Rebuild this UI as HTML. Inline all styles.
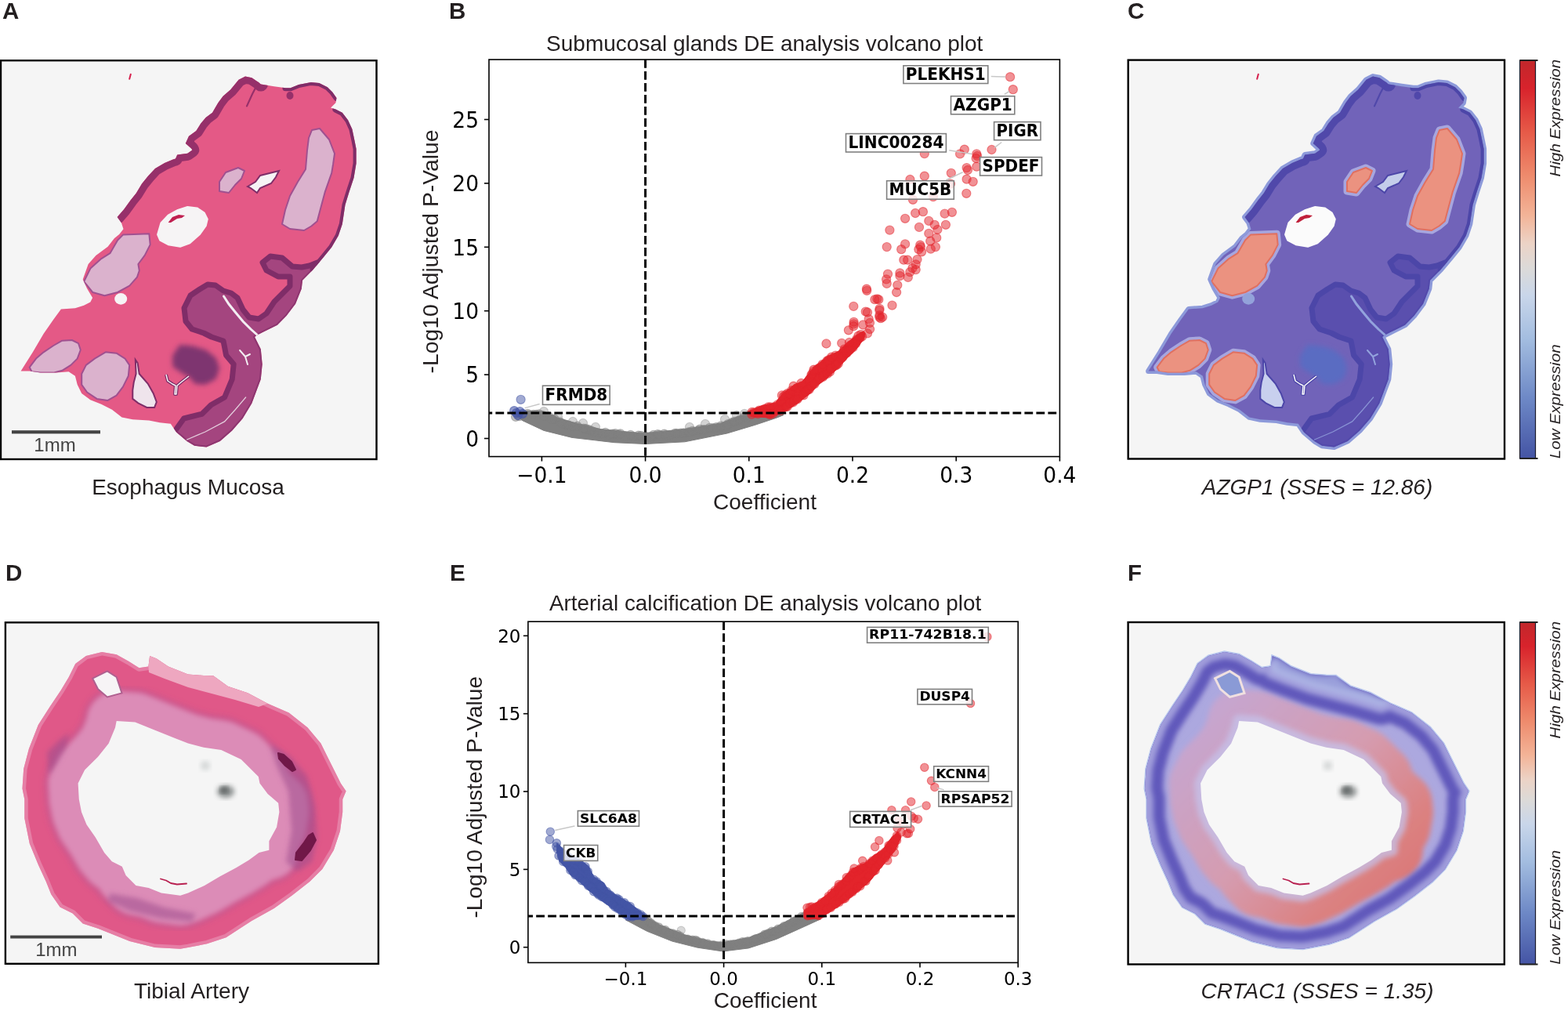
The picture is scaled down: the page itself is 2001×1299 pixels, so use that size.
<!DOCTYPE html>
<html><head><meta charset="utf-8"><title>Figure</title>
<style>html,body{margin:0;padding:0;background:#fff;width:2001px;height:1299px;overflow:hidden}svg{display:block}</style>
</head><body>
<svg width="2001" height="1299" viewBox="0 0 2001 1299">
<rect width="2001" height="1299" fill="#fff"/>
<text x="3" y="24" font-family="'Liberation Sans', Arial, Helvetica, sans-serif" font-size="29.5" font-weight="bold" font-style="normal" fill="#231f20" text-anchor="start" >A</text>
<text x="573" y="24" font-family="'Liberation Sans', Arial, Helvetica, sans-serif" font-size="29.5" font-weight="bold" font-style="normal" fill="#231f20" text-anchor="start" >B</text>
<text x="1439" y="24.2" font-family="'Liberation Sans', Arial, Helvetica, sans-serif" font-size="29.5" font-weight="bold" font-style="normal" fill="#231f20" text-anchor="start" >C</text>
<text x="7" y="741" font-family="'Liberation Sans', Arial, Helvetica, sans-serif" font-size="29.5" font-weight="bold" font-style="normal" fill="#231f20" text-anchor="start" >D</text>
<text x="574" y="741" font-family="'Liberation Sans', Arial, Helvetica, sans-serif" font-size="29.5" font-weight="bold" font-style="normal" fill="#231f20" text-anchor="start" >E</text>
<text x="1439" y="741" font-family="'Liberation Sans', Arial, Helvetica, sans-serif" font-size="29.5" font-weight="bold" font-style="normal" fill="#231f20" text-anchor="start" >F</text>
<rect x="1" y="77.2" width="479.5" height="508.8" fill="#f5f5f5" stroke="none"/>
<defs><clipPath id="clipA"><path d="M26.6,473.5 L41.9,449.3 L55.7,425.7 L68.2,407.7 L77.9,394.5 L95.9,393.2 L107.0,389.7 L115.3,385.5 L118.1,380.0 L111.0,368.0 L105.7,356.4 L112.7,337.0 L122.4,326.0 L137.6,314.8 L146.0,304.0 L152.2,299.0 L157.5,292.2 L154.9,284.3 L149.6,277.1 L158.1,267.3 L166.6,255.5 L173.8,246.4 L181.0,234.6 L188.9,224.8 L198.0,215.0 L210.0,208.0 L220.7,203.4 L224.0,202.5 L226.2,197.5 L239.3,195.8 L245.3,191.5 L244.4,189.8 L236.8,183.0 L241.0,173.7 L250.3,167.0 L256.3,157.4 L262.6,150.1 L271.0,143.8 L278.3,131.2 L284.6,122.8 L294.1,114.4 L304.6,101.8 L313.0,97.6 L321.4,99.2 L329.8,104.9 L332.9,107.6 L349.7,110.2 L364.4,112.3 L370.7,112.3 L381.2,108.1 L396.9,104.9 L407.4,106.0 L417.9,111.2 L424.2,117.5 L429.5,124.9 L428.4,131.2 L422.1,137.5 L428.4,139.6 L436.8,143.8 L444.1,153.2 L449.4,164.8 L452.5,179.4 L454.6,190.0 L454.6,208.5 L451.5,227.0 L445.4,245.4 L440.5,261.4 L436.8,286.0 L431.8,300.8 L423.2,315.5 L412.2,329.0 L399.8,343.8 L386.0,357.8 L384.8,368.5 L377.1,387.7 L365.5,403.1 L354.0,414.7 L334.7,424.3 L327.0,428.2 L325.1,430.1 L332.8,445.5 L334.7,464.7 L332.8,484.0 L327.0,499.4 L321.3,514.8 L309.7,534.0 L296.2,549.4 L280.8,562.9 L263.5,570.6 L248.1,568.7 L238.5,562.9 L225.0,551.4 L217.8,540.7 L204.0,539.3 L190.1,536.6 L169.3,535.2 L155.5,532.4 L143.0,522.7 L129.2,515.8 L115.3,510.2 L104.2,501.9 L98.7,490.8 L95.9,479.8 L87.6,474.2 L72.4,475.6 L51.6,475.6 L37.7,473.5 Z"/></clipPath></defs>
<path d="M26.6,473.5 L41.9,449.3 L55.7,425.7 L68.2,407.7 L77.9,394.5 L95.9,393.2 L107.0,389.7 L115.3,385.5 L118.1,380.0 L111.0,368.0 L105.7,356.4 L112.7,337.0 L122.4,326.0 L137.6,314.8 L146.0,304.0 L152.2,299.0 L157.5,292.2 L154.9,284.3 L149.6,277.1 L158.1,267.3 L166.6,255.5 L173.8,246.4 L181.0,234.6 L188.9,224.8 L198.0,215.0 L210.0,208.0 L220.7,203.4 L224.0,202.5 L226.2,197.5 L239.3,195.8 L245.3,191.5 L244.4,189.8 L236.8,183.0 L241.0,173.7 L250.3,167.0 L256.3,157.4 L262.6,150.1 L271.0,143.8 L278.3,131.2 L284.6,122.8 L294.1,114.4 L304.6,101.8 L313.0,97.6 L321.4,99.2 L329.8,104.9 L332.9,107.6 L349.7,110.2 L364.4,112.3 L370.7,112.3 L381.2,108.1 L396.9,104.9 L407.4,106.0 L417.9,111.2 L424.2,117.5 L429.5,124.9 L428.4,131.2 L422.1,137.5 L428.4,139.6 L436.8,143.8 L444.1,153.2 L449.4,164.8 L452.5,179.4 L454.6,190.0 L454.6,208.5 L451.5,227.0 L445.4,245.4 L440.5,261.4 L436.8,286.0 L431.8,300.8 L423.2,315.5 L412.2,329.0 L399.8,343.8 L386.0,357.8 L384.8,368.5 L377.1,387.7 L365.5,403.1 L354.0,414.7 L334.7,424.3 L327.0,428.2 L325.1,430.1 L332.8,445.5 L334.7,464.7 L332.8,484.0 L327.0,499.4 L321.3,514.8 L309.7,534.0 L296.2,549.4 L280.8,562.9 L263.5,570.6 L248.1,568.7 L238.5,562.9 L225.0,551.4 L217.8,540.7 L204.0,539.3 L190.1,536.6 L169.3,535.2 L155.5,532.4 L143.0,522.7 L129.2,515.8 L115.3,510.2 L104.2,501.9 L98.7,490.8 L95.9,479.8 L87.6,474.2 L72.4,475.6 L51.6,475.6 L37.7,473.5 Z" fill="#e45986"/>
<g clip-path="url(#clipA)">
<path d="M225.0,547.5 L234.6,534.0 L257.7,528.3 L269.3,516.7 L286.6,507.0 L296.2,484.0 L298.2,464.7 L288.5,453.2 L287.0,445.0 L285.0,435.0 L270.0,430.0 L260.0,425.0 L245.0,420.0 L237.0,410.0 L235.0,393.0 L243.0,377.0 L255.0,369.0 L265.0,363.0 L275.0,364.0 L285.0,371.0 L295.0,374.0 L303.0,380.0 L310.0,395.0 L318.0,405.0 L330.0,407.0 L340.0,400.0 L350.0,385.0 L360.0,375.0 L370.0,365.0 L370.0,353.0 L355.0,353.0 L340.0,345.0 L335.0,335.0 L345.0,327.0 L360.0,329.0 L373.0,340.0 L385.0,341.0 L395.0,339.0 L405.0,335.0 L399.8,343.8 L386.0,357.8 L384.8,368.5 L377.1,387.7 L365.5,403.1 L354.0,414.7 L334.7,424.3 L327.0,428.2 L325.1,430.1 L332.8,445.5 L334.7,464.7 L332.8,484.0 L327.0,499.4 L321.3,514.8 L309.7,534.0 L296.2,549.4 L280.8,562.9 L263.5,570.6 L248.1,568.7 L238.5,562.9 L225.0,551.4 Z" fill="#a4457f"/>
<path d="M225.0,547.5 L234.6,534.0 L257.7,528.3 L269.3,516.7 L286.6,507.0 L296.2,484.0 L298.2,464.7 L288.5,453.2 L287.0,445.0 L285.0,435.0 L270.0,430.0 L260.0,425.0 L245.0,420.0 L237.0,410.0 L235.0,393.0 L243.0,377.0 L255.0,369.0 L265.0,363.0 L275.0,364.0 L285.0,371.0 L295.0,374.0 L303.0,380.0 L310.0,395.0 L318.0,405.0 L330.0,407.0 L340.0,400.0 L350.0,385.0 L360.0,375.0 L370.0,365.0 L370.0,353.0 L355.0,353.0 L340.0,345.0 L335.0,335.0 L345.0,327.0 L360.0,329.0 L373.0,340.0 L385.0,341.0 L395.0,339.0 L405.0,335.0" fill="none" stroke="#7f2d68" stroke-width="7" stroke-linejoin="round" stroke-linecap="round"/>
<path d="M149.6,277.1 L158.1,267.3 L166.6,255.5 L173.8,246.4 L181.0,234.6 L188.9,224.8 L198.0,215.0 L210.0,208.0 L220.7,203.4 L224.0,202.5 L226.2,197.5 L239.3,195.8 L245.3,191.5 L244.4,189.8 L236.8,183.0 L241.0,173.7 L250.3,167.0 L256.3,157.4 L262.6,150.1 L271.0,143.8 L278.3,131.2 L284.6,122.8 L294.1,114.4 L304.6,101.8 L313.0,97.6 L321.4,99.2 L329.8,104.9 L332.9,107.6" fill="none" stroke="#96306a" stroke-width="18" stroke-linejoin="round" stroke-linecap="round"/>
<path d="M364.4,112.3 L370.7,112.3 L381.2,108.1 L396.9,104.9 L407.4,106.0 L417.9,111.2 L424.2,117.5 L429.5,124.9" fill="none" stroke="#7f2d68" stroke-width="8" stroke-linejoin="round" stroke-linecap="round"/>
<path d="M428.4,139.6 L436.8,143.8 L444.1,153.2 L449.4,164.8 L452.5,179.4 L454.6,190.0 L454.6,208.5 L451.5,227.0 L445.4,245.4 L440.5,261.4 L436.8,286.0 L431.8,300.8 L423.2,315.5 L412.2,329.0 L399.8,343.8" fill="none" stroke="#7f2d68" stroke-width="8" stroke-linejoin="round" stroke-linecap="round"/>
<path d="M399.8,343.8 L386.0,357.8 L384.8,368.5 L377.1,387.7 L365.5,403.1 L354.0,414.7 L334.7,424.3 L327.0,428.2 L325.1,430.1 L332.8,445.5 L334.7,464.7 L332.8,484.0 L327.0,499.4 L321.3,514.8 L309.7,534.0 L296.2,549.4 L280.8,562.9 L263.5,570.6 L248.1,568.7 L238.5,562.9 L225.0,551.4" fill="none" stroke="#7f2d68" stroke-width="4" stroke-opacity="0.6"/>
<filter id="clipAL" x="-30%" y="-30%" width="160%" height="160%"><feGaussianBlur stdDeviation="3"/></filter>
<ellipse cx="370" cy="122" rx="4.5" ry="5" fill="#96306a"/>
<path d="M329.8,105 L322,120 L315,135.4" fill="none" stroke="#96306a" stroke-width="2.2" stroke-linecap="round"/>
<path d="M223.1,454.6 L230.8,443.1 L246.2,444.6 L261.6,449.3 L273.1,458.5 L277.0,470.0 L273.1,481.6 L261.6,487.7 L250.0,487.0 L244.6,480.0 L234.6,473.9 L223.1,466.2 Z" fill="#7e3670" stroke="#7e3670" stroke-width="6" stroke-linejoin="round" filter="url(#clipAL)"/>
<path d="M398.0,166.0 L408.0,164.0 L420.0,178.0 L427.0,196.0 L425.0,210.0 L423.2,220.8 L414.6,245.4 L409.7,263.8 L404.8,282.3 L397.4,288.5 L388.0,294.0 L370.0,292.0 L360.0,286.0 L364.0,268.0 L370.0,250.0 L380.0,232.0 L390.0,216.0 L392.0,192.0 L394.0,176.0 Z" fill="#dbb2cd" stroke="#a05090" stroke-width="2" stroke-linejoin="round"/>
<path d="M280.0,232.0 L288.0,220.0 L304.0,214.0 L312.0,218.0 L308.0,228.0 L300.0,236.0 L292.0,246.0 L280.0,244.0 Z" fill="#dbb2cd" stroke="#a05090" stroke-width="2" stroke-linejoin="round"/>
<path d="M157.0,299.6 L190.3,298.2 L191.7,312.1 L184.7,325.9 L176.4,337.0 L177.8,345.3 L175.0,353.6 L165.3,364.7 L150.1,373.0 L133.5,377.2 L118.2,373.0 L107.1,359.2 L115.4,342.6 L129.3,330.1 L140.4,323.2 L150.1,306.5 Z" fill="#dbb2cd" stroke="#a05090" stroke-width="2" stroke-linejoin="round"/>
<path d="M37.7,468.7 L46.0,457.6 L55.7,449.3 L68.2,441.0 L79.3,434.7 L91.8,434.0 L100.1,438.2 L102.8,446.5 L98.7,457.6 L90.4,465.9 L79.3,472.8 L68.2,475.6 L51.6,475.6 L40.5,474.2 Z" fill="#dbb2cd" stroke="#a05090" stroke-width="2" stroke-linejoin="round"/>
<path d="M104.2,477.0 L109.8,465.9 L120.8,457.6 L134.7,449.3 L148.6,450.7 L159.6,457.6 L165.2,465.9 L163.8,479.8 L156.9,493.6 L148.6,504.7 L137.5,510.9 L123.6,508.9 L111.1,500.5 L104.2,490.8 Z" fill="#dbb2cd" stroke="#a05090" stroke-width="2" stroke-linejoin="round"/>
<path d="M285.5,378.0 L292.0,388.0 L300.0,398.0 L310.0,410.0 L320.0,420.0 L329.0,428.0" fill="none" stroke="#f3eef2" stroke-width="3" stroke-linecap="round"/>
<path d="M313.6,507.0 L300.0,523.0 L286.6,537.9 L262.0,551.0 L238.5,561.0" fill="none" stroke="#f3eef2" stroke-width="1.3" stroke-linecap="round" stroke-opacity="0.8"/>
<path d="M306.0,447.0 L313.0,455.0 L319.0,452.0 L313.0,455.0 L316.0,465.0" fill="none" stroke="#f3eef2" stroke-width="2" stroke-linecap="round" stroke-linejoin="round"/>
</g>
<path d="M201.1,299.3 L205.4,284.5 L214.6,274.6 L226.9,267.9 L239.3,263.9 L251.6,265.4 L260.8,271.6 L264.8,279.6 L262.7,288.2 L254.7,299.3 L242.3,310.3 L230.0,314.7 L214.6,312.2 L204.2,306.7 Z" fill="#f6f4f5" stroke="#f6f4f5" stroke-width="2" stroke-linejoin="round"/>
<path d="M214.6,283.9 L220.0,277.0 L228.0,274.0 L236.0,275.0 L232.0,278.0 L226.0,279.0 L218.0,284.0 Z" fill="#c02050"/>
<ellipse cx="154.2" cy="381.4" rx="8" ry="7.3" fill="#f6f4f5"/>
<path d="M316.0,238.0 L326.0,232.0 L332.0,224.0 L348.0,220.0 L356.0,218.0 L352.0,226.0 L346.0,234.0 L332.0,240.0 L328.0,246.0 L320.0,240.0 Z" fill="#f6f4f5" stroke="#7f2d68" stroke-width="2"/>
<path d="M172.8,459.0 L175.6,463.1 L177.7,477.0 L188.7,489.5 L195.7,501.9 L199.8,513.0 L197.1,519.9 L187.4,519.9 L176.3,514.4 L169.3,508.9 L169.3,497.8 L170.7,488.1 L173.6,477.0 Z" fill="#efe4ec" stroke="#7f2d68" stroke-width="2"/>
<path d="M212.0,478.0 L214.0,486.0 L220.0,490.0 L224.0,492.0 L223.0,503.0 L225.0,503.0 L226.0,492.0 L232.0,487.0 L241.0,480.0" fill="none" stroke="#7f2d68" stroke-width="4" stroke-linejoin="round"/>
<line x1="166.8" y1="94.8" x2="165.2" y2="100.8" stroke="#d61f4c" stroke-width="2" stroke-linecap="round"/>
<path d="M212.0,478.0 L214.0,486.0 L220.0,490.0 L224.0,492.0 L223.0,503.0 L225.0,503.0 L226.0,492.0 L232.0,487.0 L241.0,480.0" fill="none" stroke="#f6f4f5" stroke-width="1.5" stroke-linejoin="round"/>
<rect x="1439.7" y="76.6" width="480.3" height="508.9" fill="#f5f5f5" stroke="none"/>
<defs><clipPath id="clipC"><path d="M1465.6,473.5 L1480.9,449.3 L1494.7,425.7 L1507.2,407.7 L1516.9,394.5 L1534.9,393.2 L1546.0,389.7 L1554.3,385.5 L1557.1,380.0 L1550.0,368.0 L1544.7,356.4 L1551.7,337.0 L1561.4,326.0 L1576.6,314.8 L1585.0,304.0 L1591.2,299.0 L1596.5,292.2 L1593.9,284.3 L1588.6,277.1 L1597.1,267.3 L1605.6,255.5 L1612.8,246.4 L1620.0,234.6 L1627.9,224.8 L1637.0,215.0 L1649.0,208.0 L1659.7,203.4 L1663.0,202.5 L1665.2,197.5 L1678.3,195.8 L1684.3,191.5 L1683.4,189.8 L1675.8,183.0 L1680.0,173.7 L1689.3,167.0 L1695.3,157.4 L1701.6,150.1 L1710.0,143.8 L1717.3,131.2 L1723.6,122.8 L1733.1,114.4 L1743.6,101.8 L1752.0,97.6 L1760.4,99.2 L1768.8,104.9 L1771.9,107.6 L1788.7,110.2 L1803.4,112.3 L1809.7,112.3 L1820.2,108.1 L1835.9,104.9 L1846.4,106.0 L1856.9,111.2 L1863.2,117.5 L1868.5,124.9 L1867.4,131.2 L1861.1,137.5 L1867.4,139.6 L1875.8,143.8 L1883.1,153.2 L1888.4,164.8 L1891.5,179.4 L1893.6,190.0 L1893.6,208.5 L1890.5,227.0 L1884.4,245.4 L1879.5,261.4 L1875.8,286.0 L1870.8,300.8 L1862.2,315.5 L1851.2,329.0 L1838.8,343.8 L1825.0,357.8 L1823.8,368.5 L1816.1,387.7 L1804.5,403.1 L1793.0,414.7 L1773.7,424.3 L1766.0,428.2 L1764.1,430.1 L1771.8,445.5 L1773.7,464.7 L1771.8,484.0 L1766.0,499.4 L1760.3,514.8 L1748.7,534.0 L1735.2,549.4 L1719.8,562.9 L1702.5,570.6 L1687.1,568.7 L1677.5,562.9 L1664.0,551.4 L1656.8,540.7 L1643.0,539.3 L1629.1,536.6 L1608.3,535.2 L1594.5,532.4 L1582.0,522.7 L1568.2,515.8 L1554.3,510.2 L1543.2,501.9 L1537.7,490.8 L1534.9,479.8 L1526.6,474.2 L1511.4,475.6 L1490.6,475.6 L1476.7,473.5 Z"/></clipPath></defs>
<path d="M1465.6,473.5 L1480.9,449.3 L1494.7,425.7 L1507.2,407.7 L1516.9,394.5 L1534.9,393.2 L1546.0,389.7 L1554.3,385.5 L1557.1,380.0 L1550.0,368.0 L1544.7,356.4 L1551.7,337.0 L1561.4,326.0 L1576.6,314.8 L1585.0,304.0 L1591.2,299.0 L1596.5,292.2 L1593.9,284.3 L1588.6,277.1 L1597.1,267.3 L1605.6,255.5 L1612.8,246.4 L1620.0,234.6 L1627.9,224.8 L1637.0,215.0 L1649.0,208.0 L1659.7,203.4 L1663.0,202.5 L1665.2,197.5 L1678.3,195.8 L1684.3,191.5 L1683.4,189.8 L1675.8,183.0 L1680.0,173.7 L1689.3,167.0 L1695.3,157.4 L1701.6,150.1 L1710.0,143.8 L1717.3,131.2 L1723.6,122.8 L1733.1,114.4 L1743.6,101.8 L1752.0,97.6 L1760.4,99.2 L1768.8,104.9 L1771.9,107.6 L1788.7,110.2 L1803.4,112.3 L1809.7,112.3 L1820.2,108.1 L1835.9,104.9 L1846.4,106.0 L1856.9,111.2 L1863.2,117.5 L1868.5,124.9 L1867.4,131.2 L1861.1,137.5 L1867.4,139.6 L1875.8,143.8 L1883.1,153.2 L1888.4,164.8 L1891.5,179.4 L1893.6,190.0 L1893.6,208.5 L1890.5,227.0 L1884.4,245.4 L1879.5,261.4 L1875.8,286.0 L1870.8,300.8 L1862.2,315.5 L1851.2,329.0 L1838.8,343.8 L1825.0,357.8 L1823.8,368.5 L1816.1,387.7 L1804.5,403.1 L1793.0,414.7 L1773.7,424.3 L1766.0,428.2 L1764.1,430.1 L1771.8,445.5 L1773.7,464.7 L1771.8,484.0 L1766.0,499.4 L1760.3,514.8 L1748.7,534.0 L1735.2,549.4 L1719.8,562.9 L1702.5,570.6 L1687.1,568.7 L1677.5,562.9 L1664.0,551.4 L1656.8,540.7 L1643.0,539.3 L1629.1,536.6 L1608.3,535.2 L1594.5,532.4 L1582.0,522.7 L1568.2,515.8 L1554.3,510.2 L1543.2,501.9 L1537.7,490.8 L1534.9,479.8 L1526.6,474.2 L1511.4,475.6 L1490.6,475.6 L1476.7,473.5 Z" fill="#8a97da" stroke="#8d9ada" stroke-width="7" stroke-linejoin="round"/>
<path d="M1465.6,473.5 L1480.9,449.3 L1494.7,425.7 L1507.2,407.7 L1516.9,394.5 L1534.9,393.2 L1546.0,389.7 L1554.3,385.5 L1557.1,380.0 L1550.0,368.0 L1544.7,356.4 L1551.7,337.0 L1561.4,326.0 L1576.6,314.8 L1585.0,304.0 L1591.2,299.0 L1596.5,292.2 L1593.9,284.3 L1588.6,277.1 L1597.1,267.3 L1605.6,255.5 L1612.8,246.4 L1620.0,234.6 L1627.9,224.8 L1637.0,215.0 L1649.0,208.0 L1659.7,203.4 L1663.0,202.5 L1665.2,197.5 L1678.3,195.8 L1684.3,191.5 L1683.4,189.8 L1675.8,183.0 L1680.0,173.7 L1689.3,167.0 L1695.3,157.4 L1701.6,150.1 L1710.0,143.8 L1717.3,131.2 L1723.6,122.8 L1733.1,114.4 L1743.6,101.8 L1752.0,97.6 L1760.4,99.2 L1768.8,104.9 L1771.9,107.6 L1788.7,110.2 L1803.4,112.3 L1809.7,112.3 L1820.2,108.1 L1835.9,104.9 L1846.4,106.0 L1856.9,111.2 L1863.2,117.5 L1868.5,124.9 L1867.4,131.2 L1861.1,137.5 L1867.4,139.6 L1875.8,143.8 L1883.1,153.2 L1888.4,164.8 L1891.5,179.4 L1893.6,190.0 L1893.6,208.5 L1890.5,227.0 L1884.4,245.4 L1879.5,261.4 L1875.8,286.0 L1870.8,300.8 L1862.2,315.5 L1851.2,329.0 L1838.8,343.8 L1825.0,357.8 L1823.8,368.5 L1816.1,387.7 L1804.5,403.1 L1793.0,414.7 L1773.7,424.3 L1766.0,428.2 L1764.1,430.1 L1771.8,445.5 L1773.7,464.7 L1771.8,484.0 L1766.0,499.4 L1760.3,514.8 L1748.7,534.0 L1735.2,549.4 L1719.8,562.9 L1702.5,570.6 L1687.1,568.7 L1677.5,562.9 L1664.0,551.4 L1656.8,540.7 L1643.0,539.3 L1629.1,536.6 L1608.3,535.2 L1594.5,532.4 L1582.0,522.7 L1568.2,515.8 L1554.3,510.2 L1543.2,501.9 L1537.7,490.8 L1534.9,479.8 L1526.6,474.2 L1511.4,475.6 L1490.6,475.6 L1476.7,473.5 Z" fill="#7163b9"/>
<g clip-path="url(#clipC)">
<path d="M1664.0,547.5 L1673.6,534.0 L1696.7,528.3 L1708.3,516.7 L1725.6,507.0 L1735.2,484.0 L1737.2,464.7 L1727.5,453.2 L1726.0,445.0 L1724.0,435.0 L1709.0,430.0 L1699.0,425.0 L1684.0,420.0 L1676.0,410.0 L1674.0,393.0 L1682.0,377.0 L1694.0,369.0 L1704.0,363.0 L1714.0,364.0 L1724.0,371.0 L1734.0,374.0 L1742.0,380.0 L1749.0,395.0 L1757.0,405.0 L1769.0,407.0 L1779.0,400.0 L1789.0,385.0 L1799.0,375.0 L1809.0,365.0 L1809.0,353.0 L1794.0,353.0 L1779.0,345.0 L1774.0,335.0 L1784.0,327.0 L1799.0,329.0 L1812.0,340.0 L1824.0,341.0 L1834.0,339.0 L1844.0,335.0 L1838.8,343.8 L1825.0,357.8 L1823.8,368.5 L1816.1,387.7 L1804.5,403.1 L1793.0,414.7 L1773.7,424.3 L1766.0,428.2 L1764.1,430.1 L1771.8,445.5 L1773.7,464.7 L1771.8,484.0 L1766.0,499.4 L1760.3,514.8 L1748.7,534.0 L1735.2,549.4 L1719.8,562.9 L1702.5,570.6 L1687.1,568.7 L1677.5,562.9 L1664.0,551.4 Z" fill="#5a4fae"/>
<path d="M1664.0,547.5 L1673.6,534.0 L1696.7,528.3 L1708.3,516.7 L1725.6,507.0 L1735.2,484.0 L1737.2,464.7 L1727.5,453.2 L1726.0,445.0 L1724.0,435.0 L1709.0,430.0 L1699.0,425.0 L1684.0,420.0 L1676.0,410.0 L1674.0,393.0 L1682.0,377.0 L1694.0,369.0 L1704.0,363.0 L1714.0,364.0 L1724.0,371.0 L1734.0,374.0 L1742.0,380.0 L1749.0,395.0 L1757.0,405.0 L1769.0,407.0 L1779.0,400.0 L1789.0,385.0 L1799.0,375.0 L1809.0,365.0 L1809.0,353.0 L1794.0,353.0 L1779.0,345.0 L1774.0,335.0 L1784.0,327.0 L1799.0,329.0 L1812.0,340.0 L1824.0,341.0 L1834.0,339.0 L1844.0,335.0" fill="none" stroke="#4c46a8" stroke-width="7" stroke-linejoin="round" stroke-linecap="round"/>
<path d="M1588.6,277.1 L1597.1,267.3 L1605.6,255.5 L1612.8,246.4 L1620.0,234.6 L1627.9,224.8 L1637.0,215.0 L1649.0,208.0 L1659.7,203.4 L1663.0,202.5 L1665.2,197.5 L1678.3,195.8 L1684.3,191.5 L1683.4,189.8 L1675.8,183.0 L1680.0,173.7 L1689.3,167.0 L1695.3,157.4 L1701.6,150.1 L1710.0,143.8 L1717.3,131.2 L1723.6,122.8 L1733.1,114.4 L1743.6,101.8 L1752.0,97.6 L1760.4,99.2 L1768.8,104.9 L1771.9,107.6" fill="none" stroke="#5048aa" stroke-width="18" stroke-linejoin="round" stroke-linecap="round"/>
<path d="M1803.4,112.3 L1809.7,112.3 L1820.2,108.1 L1835.9,104.9 L1846.4,106.0 L1856.9,111.2 L1863.2,117.5 L1868.5,124.9" fill="none" stroke="#4c46a8" stroke-width="8" stroke-linejoin="round" stroke-linecap="round"/>
<path d="M1867.4,139.6 L1875.8,143.8 L1883.1,153.2 L1888.4,164.8 L1891.5,179.4 L1893.6,190.0 L1893.6,208.5 L1890.5,227.0 L1884.4,245.4 L1879.5,261.4 L1875.8,286.0 L1870.8,300.8 L1862.2,315.5 L1851.2,329.0 L1838.8,343.8" fill="none" stroke="#4c46a8" stroke-width="8" stroke-linejoin="round" stroke-linecap="round"/>
<path d="M1838.8,343.8 L1825.0,357.8 L1823.8,368.5 L1816.1,387.7 L1804.5,403.1 L1793.0,414.7 L1773.7,424.3 L1766.0,428.2 L1764.1,430.1 L1771.8,445.5 L1773.7,464.7 L1771.8,484.0 L1766.0,499.4 L1760.3,514.8 L1748.7,534.0 L1735.2,549.4 L1719.8,562.9 L1702.5,570.6 L1687.1,568.7 L1677.5,562.9 L1664.0,551.4" fill="none" stroke="#4c46a8" stroke-width="4" stroke-opacity="0.6"/>
<filter id="clipCL" x="-30%" y="-30%" width="160%" height="160%"><feGaussianBlur stdDeviation="3"/></filter>
<ellipse cx="1809" cy="122" rx="4.5" ry="5" fill="#5048aa"/>
<path d="M1768.8,105 L1761,120 L1754,135.4" fill="none" stroke="#5048aa" stroke-width="2.2" stroke-linecap="round"/>
<path d="M1662.1,454.6 L1669.8,443.1 L1685.2,444.6 L1700.6,449.3 L1712.1,458.5 L1716.0,470.0 L1712.1,481.6 L1700.6,487.7 L1689.0,487.0 L1683.6,480.0 L1673.6,473.9 L1662.1,466.2 Z" fill="#5a6cc2" stroke="#5a6cc2" stroke-width="6" stroke-linejoin="round" filter="url(#clipCL)"/>
<path d="M1837.0,166.0 L1847.0,164.0 L1859.0,178.0 L1866.0,196.0 L1864.0,210.0 L1862.2,220.8 L1853.6,245.4 L1848.7,263.8 L1843.8,282.3 L1836.4,288.5 L1827.0,294.0 L1809.0,292.0 L1799.0,286.0 L1803.0,268.0 L1809.0,250.0 L1819.0,232.0 L1829.0,216.0 L1831.0,192.0 L1833.0,176.0 Z" fill="#a7a6de" stroke="#a7a6de" stroke-width="9" stroke-linejoin="round"/>
<path d="M1837.0,166.0 L1847.0,164.0 L1859.0,178.0 L1866.0,196.0 L1864.0,210.0 L1862.2,220.8 L1853.6,245.4 L1848.7,263.8 L1843.8,282.3 L1836.4,288.5 L1827.0,294.0 L1809.0,292.0 L1799.0,286.0 L1803.0,268.0 L1809.0,250.0 L1819.0,232.0 L1829.0,216.0 L1831.0,192.0 L1833.0,176.0 Z" fill="#eb9280" stroke="#e07060" stroke-width="2" stroke-linejoin="round"/>
<path d="M1719.0,232.0 L1727.0,220.0 L1743.0,214.0 L1751.0,218.0 L1747.0,228.0 L1739.0,236.0 L1731.0,246.0 L1719.0,244.0 Z" fill="#a7a6de" stroke="#a7a6de" stroke-width="9" stroke-linejoin="round"/>
<path d="M1719.0,232.0 L1727.0,220.0 L1743.0,214.0 L1751.0,218.0 L1747.0,228.0 L1739.0,236.0 L1731.0,246.0 L1719.0,244.0 Z" fill="#eb9280" stroke="#e07060" stroke-width="2" stroke-linejoin="round"/>
<path d="M1596.0,299.6 L1629.3,298.2 L1630.7,312.1 L1623.7,325.9 L1615.4,337.0 L1616.8,345.3 L1614.0,353.6 L1604.3,364.7 L1589.1,373.0 L1572.5,377.2 L1557.2,373.0 L1546.1,359.2 L1554.4,342.6 L1568.3,330.1 L1579.4,323.2 L1589.1,306.5 Z" fill="#a7a6de" stroke="#a7a6de" stroke-width="9" stroke-linejoin="round"/>
<path d="M1596.0,299.6 L1629.3,298.2 L1630.7,312.1 L1623.7,325.9 L1615.4,337.0 L1616.8,345.3 L1614.0,353.6 L1604.3,364.7 L1589.1,373.0 L1572.5,377.2 L1557.2,373.0 L1546.1,359.2 L1554.4,342.6 L1568.3,330.1 L1579.4,323.2 L1589.1,306.5 Z" fill="#eb9280" stroke="#e07060" stroke-width="2" stroke-linejoin="round"/>
<path d="M1476.7,468.7 L1485.0,457.6 L1494.7,449.3 L1507.2,441.0 L1518.3,434.7 L1530.8,434.0 L1539.1,438.2 L1541.8,446.5 L1537.7,457.6 L1529.4,465.9 L1518.3,472.8 L1507.2,475.6 L1490.6,475.6 L1479.5,474.2 Z" fill="#a7a6de" stroke="#a7a6de" stroke-width="9" stroke-linejoin="round"/>
<path d="M1476.7,468.7 L1485.0,457.6 L1494.7,449.3 L1507.2,441.0 L1518.3,434.7 L1530.8,434.0 L1539.1,438.2 L1541.8,446.5 L1537.7,457.6 L1529.4,465.9 L1518.3,472.8 L1507.2,475.6 L1490.6,475.6 L1479.5,474.2 Z" fill="#eb9280" stroke="#e07060" stroke-width="2" stroke-linejoin="round"/>
<path d="M1543.2,477.0 L1548.8,465.9 L1559.8,457.6 L1573.7,449.3 L1587.6,450.7 L1598.6,457.6 L1604.2,465.9 L1602.8,479.8 L1595.9,493.6 L1587.6,504.7 L1576.5,510.9 L1562.6,508.9 L1550.1,500.5 L1543.2,490.8 Z" fill="#a7a6de" stroke="#a7a6de" stroke-width="9" stroke-linejoin="round"/>
<path d="M1543.2,477.0 L1548.8,465.9 L1559.8,457.6 L1573.7,449.3 L1587.6,450.7 L1598.6,457.6 L1604.2,465.9 L1602.8,479.8 L1595.9,493.6 L1587.6,504.7 L1576.5,510.9 L1562.6,508.9 L1550.1,500.5 L1543.2,490.8 Z" fill="#eb9280" stroke="#e07060" stroke-width="2" stroke-linejoin="round"/>
<path d="M1724.5,378.0 L1731.0,388.0 L1739.0,398.0 L1749.0,410.0 L1759.0,420.0 L1768.0,428.0" fill="none" stroke="#93a3dd" stroke-width="3" stroke-linecap="round"/>
<path d="M1752.6,507.0 L1739.0,523.0 L1725.6,537.9 L1701.0,551.0 L1677.5,561.0" fill="none" stroke="#93a3dd" stroke-width="1.3" stroke-linecap="round" stroke-opacity="0.8"/>
<path d="M1745.0,447.0 L1752.0,455.0 L1758.0,452.0 L1752.0,455.0 L1755.0,465.0" fill="none" stroke="#93a3dd" stroke-width="2" stroke-linecap="round" stroke-linejoin="round"/>
</g>
<path d="M1640.1,299.3 L1644.4,284.5 L1653.6,274.6 L1665.9,267.9 L1678.3,263.9 L1690.6,265.4 L1699.8,271.6 L1703.8,279.6 L1701.7,288.2 L1693.7,299.3 L1681.3,310.3 L1669.0,314.7 L1653.6,312.2 L1643.2,306.7 Z" fill="#fbfbfb" stroke="#fbfbfb" stroke-width="2" stroke-linejoin="round"/>
<path d="M1653.6,283.9 L1659.0,277.0 L1667.0,274.0 L1675.0,275.0 L1671.0,278.0 L1665.0,279.0 L1657.0,284.0 Z" fill="#c0203a"/>
<ellipse cx="1593.2" cy="381.4" rx="8" ry="7.3" fill="#93a2da"/>
<path d="M1755.0,238.0 L1765.0,232.0 L1771.0,224.0 L1787.0,220.0 L1795.0,218.0 L1791.0,226.0 L1785.0,234.0 L1771.0,240.0 L1767.0,246.0 L1759.0,240.0 Z" fill="#c4cdea" stroke="#4c46a8" stroke-width="2"/>
<path d="M1611.8,459.0 L1614.6,463.1 L1616.7,477.0 L1627.7,489.5 L1634.7,501.9 L1638.8,513.0 L1636.1,519.9 L1626.4,519.9 L1615.3,514.4 L1608.3,508.9 L1608.3,497.8 L1609.7,488.1 L1612.6,477.0 Z" fill="#c8d0ee" stroke="#4c46a8" stroke-width="2"/>
<path d="M1651.0,478.0 L1653.0,486.0 L1659.0,490.0 L1663.0,492.0 L1662.0,503.0 L1664.0,503.0 L1665.0,492.0 L1671.0,487.0 L1680.0,480.0" fill="none" stroke="#4c46a8" stroke-width="4" stroke-linejoin="round"/>
<line x1="1605.8" y1="94.8" x2="1604.2" y2="100.8" stroke="#d61f4c" stroke-width="2" stroke-linecap="round"/>
<path d="M1651.0,478.0 L1653.0,486.0 L1659.0,490.0 L1663.0,492.0 L1662.0,503.0 L1664.0,503.0 L1665.0,492.0 L1671.0,487.0 L1680.0,480.0" fill="none" stroke="#fbfbfb" stroke-width="1.5" stroke-linejoin="round"/>
<rect x="6.9" y="794.3" width="476.0" height="435.5" fill="#f5f5f5" stroke="none"/>
<defs><clipPath id="clipD"><path d="M28.5,1006.3 L30.2,980.9 L36.9,955.5 L48.8,925.0 L64.0,901.3 L77.6,881.0 L87.8,864.0 L96.2,847.1 L109.8,837.0 L130.1,831.9 L148.7,835.2 L164.0,843.7 L177.5,852.2 L189.4,850.5 L191.1,836.9 L199.5,840.3 L214.8,850.5 L240.0,860.5 L260.0,862.0 L272.2,862.2 L290.8,875.7 L316.2,884.2 L341.6,897.8 L368.7,909.6 L392.4,928.2 L409.4,948.6 L417.8,965.5 L426.3,982.4 L434.8,999.4 L441.6,1009.5 L437.2,1020.0 L437.2,1036.2 L434.0,1060.4 L425.9,1084.7 L411.3,1108.9 L395.2,1125.1 L372.5,1142.8 L349.9,1159.0 L320.8,1175.2 L288.5,1196.2 L264.2,1204.3 L240.0,1209.1 L230.1,1210.7 L197.8,1209.1 L165.5,1201.0 L141.2,1191.3 L125.0,1184.8 L105.7,1178.4 L92.7,1165.5 L76.6,1157.4 L65.3,1141.2 L58.8,1125.1 L49.1,1104.0 L37.8,1076.6 L31.3,1044.2 L31.3,1020.0 Z"/></clipPath><filter id="clipDb" x="-20%" y="-20%" width="140%" height="140%"><feGaussianBlur stdDeviation="3"/></filter></defs>
<path d="M28.5,1006.3 L30.2,980.9 L36.9,955.5 L48.8,925.0 L64.0,901.3 L77.6,881.0 L87.8,864.0 L96.2,847.1 L109.8,837.0 L130.1,831.9 L148.7,835.2 L164.0,843.7 L177.5,852.2 L189.4,850.5 L191.1,836.9 L199.5,840.3 L214.8,850.5 L240.0,860.5 L260.0,862.0 L272.2,862.2 L290.8,875.7 L316.2,884.2 L341.6,897.8 L368.7,909.6 L392.4,928.2 L409.4,948.6 L417.8,965.5 L426.3,982.4 L434.8,999.4 L441.6,1009.5 L437.2,1020.0 L437.2,1036.2 L434.0,1060.4 L425.9,1084.7 L411.3,1108.9 L395.2,1125.1 L372.5,1142.8 L349.9,1159.0 L320.8,1175.2 L288.5,1196.2 L264.2,1204.3 L240.0,1209.1 L230.1,1210.7 L197.8,1209.1 L165.5,1201.0 L141.2,1191.3 L125.0,1184.8 L105.7,1178.4 L92.7,1165.5 L76.6,1157.4 L65.3,1141.2 L58.8,1125.1 L49.1,1104.0 L37.8,1076.6 L31.3,1044.2 L31.3,1020.0 Z" fill="#e05888"/>
<g clip-path="url(#clipD)">
<path d="M28.5,1006.3 L30.2,980.9 L36.9,955.5 L48.8,925.0 L64.0,901.3 L77.6,881.0 L87.8,864.0 L96.2,847.1 L109.8,837.0 L130.1,831.9 L148.7,835.2 L164.0,843.7 L177.5,852.2 L189.4,850.5 L191.1,836.9 L199.5,840.3 L214.8,850.5 L240.0,860.5 L260.0,862.0 L272.2,862.2 L290.8,875.7 L316.2,884.2 L341.6,897.8 L368.7,909.6 L392.4,928.2 L409.4,948.6 L417.8,965.5 L426.3,982.4 L434.8,999.4 L441.6,1009.5 L437.2,1020.0 L437.2,1036.2 L434.0,1060.4 L425.9,1084.7 L411.3,1108.9 L395.2,1125.1 L372.5,1142.8 L349.9,1159.0 L320.8,1175.2 L288.5,1196.2 L264.2,1204.3 L240.0,1209.1 L230.1,1210.7 L197.8,1209.1 L165.5,1201.0 L141.2,1191.3 L125.0,1184.8 L105.7,1178.4 L92.7,1165.5 L76.6,1157.4 L65.3,1141.2 L58.8,1125.1 L49.1,1104.0 L37.8,1076.6 L31.3,1044.2 L31.3,1020.0 Z" fill="none" stroke="#eb9fbe" stroke-width="9" stroke-linejoin="round" stroke-opacity="0.55"/>
<path d="M189.4,850.5 L191.1,836.9 L199.5,840.3 L214.8,850.5 L240.0,860.5 L260.0,862.0 L272.2,862.2 L290.8,875.7 L316.2,884.2 L341.6,897.8 L330.0,902.0 L300.0,893.0 L270.0,885.0 L240.0,877.0 L210.0,866.0 L190.0,858.0 Z" fill="#eea7c0"/>
<path d="M100.8,1020.0 L99.6,999.5 L108.1,982.6 L125.0,965.7 L138.6,948.7 L147.0,928.4 L148.7,919.9 L172.4,921.6 L197.8,931.8 L223.3,942.0 L240.0,948.6 L260.0,953.8 L282.3,957.0 L307.7,968.9 L329.8,990.9 L331.5,999.4 L341.6,1012.9 L355.2,1024.8 L356.4,1036.2 L353.1,1055.6 L343.4,1073.3 L343.4,1084.7 L330.5,1087.9 L317.6,1097.6 L301.4,1107.3 L280.4,1118.6 L261.0,1129.9 L240.0,1139.6 L230.1,1142.8 L205.9,1139.6 L189.7,1133.1 L173.5,1129.9 L160.6,1117.0 L155.8,1105.7 L142.8,1099.2 L133.1,1087.9 L121.8,1068.5 L110.5,1052.3 L104.0,1036.2 Z" fill="none" stroke="#a55092" stroke-width="88" stroke-linejoin="round" stroke-opacity="0.3" filter="url(#clipDb)"/>
<path d="M100.8,1020.0 L99.6,999.5 L108.1,982.6 L125.0,965.7 L138.6,948.7 L147.0,928.4 L148.7,919.9 L172.4,921.6 L197.8,931.8 L223.3,942.0 L240.0,948.6 L260.0,953.8 L282.3,957.0 L307.7,968.9 L329.8,990.9 L331.5,999.4 L341.6,1012.9 L355.2,1024.8 L356.4,1036.2 L353.1,1055.6 L343.4,1073.3 L343.4,1084.7 L330.5,1087.9 L317.6,1097.6 L301.4,1107.3 L280.4,1118.6 L261.0,1129.9 L240.0,1139.6 L230.1,1142.8 L205.9,1139.6 L189.7,1133.1 L173.5,1129.9 L160.6,1117.0 L155.8,1105.7 L142.8,1099.2 L133.1,1087.9 L121.8,1068.5 L110.5,1052.3 L104.0,1036.2 Z" fill="none" stroke="#dc8cb7" stroke-width="76" stroke-linejoin="round" filter="url(#clipDb)"/>
<path d="M345.0,950.0 L370.0,965.0 L392.0,990.0 L402.0,1030.0 L405.0,1070.0 L398.0,1100.0 L380.0,1112.0 L365.0,1100.0 L372.0,1060.0 L368.0,1010.0 L352.0,975.0 Z" fill="#9c4a8c" fill-opacity="0.55" filter="url(#clipDb)"/>
<path d="M140.0,1140.0 L175.0,1146.0 L210.0,1158.0 L250.0,1166.0 L245.0,1176.0 L205.0,1172.0 L165.0,1162.0 L138.0,1150.0 Z" fill="#9c4a8c" fill-opacity="0.55" filter="url(#clipDb)"/>
<path d="M60.0,960.0 L75.0,945.0 L88.0,935.0 L84.0,955.0 L72.0,975.0 L62.0,990.0 Z" fill="#9c4a8c" fill-opacity="0.55" filter="url(#clipDb)"/>
<path d="M355.0,961.0 L362.0,963.0 L372.0,972.0 L377.0,982.0 L373.0,984.0 L364.0,977.0 L356.0,968.0 Z" fill="#701848" stroke="#701848" stroke-width="2" stroke-linejoin="round"/>
<path d="M399.0,1063.0 L403.0,1072.0 L396.0,1085.0 L385.0,1098.0 L377.0,1097.0 L378.0,1088.0 L388.0,1075.0 L394.0,1066.0 Z" fill="#701848" stroke="#701848" stroke-width="2" stroke-linejoin="round"/>
</g>
<path d="M100.8,1020.0 L99.6,999.5 L108.1,982.6 L125.0,965.7 L138.6,948.7 L147.0,928.4 L148.7,919.9 L172.4,921.6 L197.8,931.8 L223.3,942.0 L240.0,948.6 L260.0,953.8 L282.3,957.0 L307.7,968.9 L329.8,990.9 L331.5,999.4 L341.6,1012.9 L355.2,1024.8 L356.4,1036.2 L353.1,1055.6 L343.4,1073.3 L343.4,1084.7 L330.5,1087.9 L317.6,1097.6 L301.4,1107.3 L280.4,1118.6 L261.0,1129.9 L240.0,1139.6 L230.1,1142.8 L205.9,1139.6 L189.7,1133.1 L173.5,1129.9 L160.6,1117.0 L155.8,1105.7 L142.8,1099.2 L133.1,1087.9 L121.8,1068.5 L110.5,1052.3 L104.0,1036.2 Z" fill="#f5f5f5"/>
<path d="M118.2,865.7 L136.9,856.4 L148.7,864.0 L155.5,884.4 L136.9,889.4 L125.0,879.3 Z" fill="#f7f4f6" stroke="#b06090" stroke-width="2"/>
<path d="M205,1121.5 L212,1123.5 L218,1127 L226,1128.5 L238,1127.5" fill="none" stroke="#b82050" stroke-width="1.8" stroke-linecap="round" stroke-linejoin="round"/>
<ellipse cx="288" cy="1010" rx="11" ry="8" fill="#6a7070" opacity="0.75" filter="url(#clipDb)"/>
<ellipse cx="286" cy="1008" rx="5" ry="4" fill="#4a5050" opacity="0.8" filter="url(#clipDb)"/>
<ellipse cx="262" cy="977" rx="6" ry="6" fill="#cdd0d0" opacity="0.8" filter="url(#clipDb)"/>
<rect x="1439.6" y="794" width="480.2" height="436.5" fill="#f5f5f5" stroke="none"/>
<defs><clipPath id="clipF"><path d="M1461.0,1006.3 L1462.7,980.9 L1469.4,955.5 L1481.3,925.0 L1496.5,901.3 L1510.1,881.0 L1520.3,864.0 L1528.7,847.1 L1542.3,837.0 L1562.6,831.9 L1581.2,835.2 L1596.5,843.7 L1610.0,852.2 L1621.9,850.5 L1623.6,836.9 L1632.0,840.3 L1647.3,850.5 L1672.5,860.5 L1692.5,862.0 L1704.7,862.2 L1723.3,875.7 L1748.7,884.2 L1774.1,897.8 L1801.2,909.6 L1824.9,928.2 L1841.9,948.6 L1850.3,965.5 L1858.8,982.4 L1867.3,999.4 L1874.1,1009.5 L1869.7,1020.0 L1869.7,1036.2 L1866.5,1060.4 L1858.4,1084.7 L1843.8,1108.9 L1827.7,1125.1 L1805.0,1142.8 L1782.4,1159.0 L1753.3,1175.2 L1721.0,1196.2 L1696.7,1204.3 L1672.5,1209.1 L1662.6,1210.7 L1630.3,1209.1 L1598.0,1201.0 L1573.7,1191.3 L1557.5,1184.8 L1538.2,1178.4 L1525.2,1165.5 L1509.1,1157.4 L1497.8,1141.2 L1491.3,1125.1 L1481.6,1104.0 L1470.3,1076.6 L1463.8,1044.2 L1463.8,1020.0 Z"/></clipPath><filter id="clipFb" x="-20%" y="-20%" width="140%" height="140%"><feGaussianBlur stdDeviation="3"/></filter></defs>
<defs><linearGradient id="clipFg" gradientUnits="userSpaceOnUse" x1="1552.5" y1="880" x2="1832.5" y2="1160"><stop offset="0" stop-color="#c9a6d0"/><stop offset="0.45" stop-color="#dc9aa8"/><stop offset="0.75" stop-color="#e47a70"/><stop offset="1" stop-color="#e2675e"/></linearGradient></defs>
<path d="M1461.0,1006.3 L1462.7,980.9 L1469.4,955.5 L1481.3,925.0 L1496.5,901.3 L1510.1,881.0 L1520.3,864.0 L1528.7,847.1 L1542.3,837.0 L1562.6,831.9 L1581.2,835.2 L1596.5,843.7 L1610.0,852.2 L1621.9,850.5 L1623.6,836.9 L1632.0,840.3 L1647.3,850.5 L1672.5,860.5 L1692.5,862.0 L1704.7,862.2 L1723.3,875.7 L1748.7,884.2 L1774.1,897.8 L1801.2,909.6 L1824.9,928.2 L1841.9,948.6 L1850.3,965.5 L1858.8,982.4 L1867.3,999.4 L1874.1,1009.5 L1869.7,1020.0 L1869.7,1036.2 L1866.5,1060.4 L1858.4,1084.7 L1843.8,1108.9 L1827.7,1125.1 L1805.0,1142.8 L1782.4,1159.0 L1753.3,1175.2 L1721.0,1196.2 L1696.7,1204.3 L1672.5,1209.1 L1662.6,1210.7 L1630.3,1209.1 L1598.0,1201.0 L1573.7,1191.3 L1557.5,1184.8 L1538.2,1178.4 L1525.2,1165.5 L1509.1,1157.4 L1497.8,1141.2 L1491.3,1125.1 L1481.6,1104.0 L1470.3,1076.6 L1463.8,1044.2 L1463.8,1020.0 Z" fill="#aca8df" stroke="#b9c8ee" stroke-width="3"/>
<g clip-path="url(#clipF)">
<path d="M1461.0,1006.3 L1462.7,980.9 L1469.4,955.5 L1481.3,925.0 L1496.5,901.3 L1510.1,881.0 L1520.3,864.0 L1528.7,847.1 L1542.3,837.0 L1562.6,831.9 L1581.2,835.2 L1596.5,843.7 L1610.0,852.2 L1621.9,850.5 L1623.6,836.9 L1632.0,840.3 L1647.3,850.5 L1672.5,860.5 L1692.5,862.0 L1704.7,862.2 L1723.3,875.7 L1748.7,884.2 L1774.1,897.8 L1801.2,909.6 L1824.9,928.2 L1841.9,948.6 L1850.3,965.5 L1858.8,982.4 L1867.3,999.4 L1874.1,1009.5 L1869.7,1020.0 L1869.7,1036.2 L1866.5,1060.4 L1858.4,1084.7 L1843.8,1108.9 L1827.7,1125.1 L1805.0,1142.8 L1782.4,1159.0 L1753.3,1175.2 L1721.0,1196.2 L1696.7,1204.3 L1672.5,1209.1 L1662.6,1210.7 L1630.3,1209.1 L1598.0,1201.0 L1573.7,1191.3 L1557.5,1184.8 L1538.2,1178.4 L1525.2,1165.5 L1509.1,1157.4 L1497.8,1141.2 L1491.3,1125.1 L1481.6,1104.0 L1470.3,1076.6 L1463.8,1044.2 L1463.8,1020.0 Z" fill="none" stroke="#9e9bd9" stroke-width="10" stroke-linejoin="round"/>
<path d="M1533.3,1020.0 L1532.1,999.5 L1540.6,982.6 L1557.5,965.7 L1571.1,948.7 L1579.5,928.4 L1581.2,919.9 L1604.9,921.6 L1630.3,931.8 L1655.8,942.0 L1672.5,948.6 L1692.5,953.8 L1714.8,957.0 L1740.2,968.9 L1762.3,990.9 L1764.0,999.4 L1774.1,1012.9 L1787.7,1024.8 L1788.9,1036.2 L1785.6,1055.6 L1775.9,1073.3 L1775.9,1084.7 L1763.0,1087.9 L1750.1,1097.6 L1733.9,1107.3 L1712.9,1118.6 L1693.5,1129.9 L1672.5,1139.6 L1662.6,1142.8 L1638.4,1139.6 L1622.2,1133.1 L1606.0,1129.9 L1593.1,1117.0 L1588.3,1105.7 L1575.3,1099.2 L1565.6,1087.9 L1554.3,1068.5 L1543.0,1052.3 L1536.5,1036.2 Z" fill="none" stroke="url(#clipFg)" stroke-width="80" stroke-linejoin="round" stroke-opacity="0.85" filter="url(#clipFb)"/>
<path d="M1533.3,1020.0 L1532.1,999.5 L1540.6,982.6 L1557.5,965.7 L1571.1,948.7 L1579.5,928.4 L1581.2,919.9 L1604.9,921.6 L1630.3,931.8 L1655.8,942.0 L1672.5,948.6 L1692.5,953.8 L1714.8,957.0 L1740.2,968.9 L1762.3,990.9 L1764.0,999.4 L1774.1,1012.9 L1787.7,1024.8 L1788.9,1036.2 L1785.6,1055.6 L1775.9,1073.3 L1775.9,1084.7 L1763.0,1087.9 L1750.1,1097.6 L1733.9,1107.3 L1712.9,1118.6 L1693.5,1129.9 L1672.5,1139.6 L1662.6,1142.8 L1638.4,1139.6 L1622.2,1133.1 L1606.0,1129.9 L1593.1,1117.0 L1588.3,1105.7 L1575.3,1099.2 L1565.6,1087.9 L1554.3,1068.5 L1543.0,1052.3 L1536.5,1036.2 Z" fill="none" stroke="#c6c2ea" stroke-width="16" stroke-linejoin="round" stroke-opacity="0.75" filter="url(#clipFb)"/>
<path d="M1621.9,850.5 L1623.6,836.9 L1632.0,840.3 L1647.3,850.5 L1672.5,860.5 L1692.5,862.0 L1704.7,862.2 L1723.3,875.7 L1748.7,884.2 L1774.1,897.8 L1762.5,902.0 L1732.5,893.0 L1702.5,885.0 L1672.5,877.0 L1642.5,866.0 L1622.5,858.0 Z" fill="#b4c0ea"/>
<path d="M1461.0,1006.3 L1462.7,980.9 L1469.4,955.5 L1481.3,925.0 L1496.5,901.3 L1510.1,881.0 L1520.3,864.0 L1528.7,847.1 L1542.3,837.0 L1562.6,831.9 L1581.2,835.2 L1596.5,843.7 L1610.0,852.2 L1621.9,850.5 L1622.5,858.0 L1642.5,866.0 L1672.5,877.0 L1702.5,885.0 L1732.5,893.0 L1762.5,902.0 L1774.1,897.8 L1801.2,909.6 L1824.9,928.2 L1841.9,948.6 L1850.3,965.5 L1858.8,982.4 L1867.3,999.4 L1874.1,1009.5 L1869.7,1020.0 L1869.7,1036.2 L1866.5,1060.4 L1858.4,1084.7 L1843.8,1108.9 L1827.7,1125.1 L1805.0,1142.8 L1782.4,1159.0 L1753.3,1175.2 L1721.0,1196.2 L1696.7,1204.3 L1672.5,1209.1 L1662.6,1210.7 L1630.3,1209.1 L1598.0,1201.0 L1573.7,1191.3 L1557.5,1184.8 L1538.2,1178.4 L1525.2,1165.5 L1509.1,1157.4 L1497.8,1141.2 L1491.3,1125.1 L1481.6,1104.0 L1470.3,1076.6 L1463.8,1044.2 L1463.8,1020.0 Z" fill="none" stroke="#6058bb" stroke-width="46" stroke-linejoin="round" filter="url(#clipFb)"/>
<path d="M1461.0,1006.3 L1462.7,980.9 L1469.4,955.5 L1481.3,925.0 L1496.5,901.3 L1510.1,881.0 L1520.3,864.0 L1528.7,847.1 L1542.3,837.0 L1562.6,831.9 L1581.2,835.2 L1596.5,843.7 L1610.0,852.2 L1621.9,850.5 L1622.5,858.0 L1642.5,866.0 L1672.5,877.0 L1702.5,885.0 L1732.5,893.0 L1762.5,902.0 L1774.1,897.8 L1801.2,909.6 L1824.9,928.2 L1841.9,948.6 L1850.3,965.5 L1858.8,982.4 L1867.3,999.4 L1874.1,1009.5 L1869.7,1020.0 L1869.7,1036.2 L1866.5,1060.4 L1858.4,1084.7 L1843.8,1108.9 L1827.7,1125.1 L1805.0,1142.8 L1782.4,1159.0 L1753.3,1175.2 L1721.0,1196.2 L1696.7,1204.3 L1672.5,1209.1 L1662.6,1210.7 L1630.3,1209.1 L1598.0,1201.0 L1573.7,1191.3 L1557.5,1184.8 L1538.2,1178.4 L1525.2,1165.5 L1509.1,1157.4 L1497.8,1141.2 L1491.3,1125.1 L1481.6,1104.0 L1470.3,1076.6 L1463.8,1044.2 L1463.8,1020.0 Z" fill="none" stroke="#a09ddb" stroke-width="16" stroke-linejoin="round" filter="url(#clipFb)"/>
<path d="M1621.9,850.5 L1623.6,836.9 L1632.0,840.3 L1647.3,850.5 L1672.5,860.5 L1692.5,862.0 L1704.7,862.2 L1723.3,875.7 L1748.7,884.2 L1774.1,897.8 L1762.5,902.0 L1732.5,893.0 L1702.5,885.0 L1672.5,877.0 L1642.5,866.0 L1622.5,858.0 Z" fill="#b2bde8" fill-opacity="0.7" filter="url(#clipFb)"/>
</g>
<path d="M1533.3,1020.0 L1532.1,999.5 L1540.6,982.6 L1557.5,965.7 L1571.1,948.7 L1579.5,928.4 L1581.2,919.9 L1604.9,921.6 L1630.3,931.8 L1655.8,942.0 L1672.5,948.6 L1692.5,953.8 L1714.8,957.0 L1740.2,968.9 L1762.3,990.9 L1764.0,999.4 L1774.1,1012.9 L1787.7,1024.8 L1788.9,1036.2 L1785.6,1055.6 L1775.9,1073.3 L1775.9,1084.7 L1763.0,1087.9 L1750.1,1097.6 L1733.9,1107.3 L1712.9,1118.6 L1693.5,1129.9 L1672.5,1139.6 L1662.6,1142.8 L1638.4,1139.6 L1622.2,1133.1 L1606.0,1129.9 L1593.1,1117.0 L1588.3,1105.7 L1575.3,1099.2 L1565.6,1087.9 L1554.3,1068.5 L1543.0,1052.3 L1536.5,1036.2 Z" fill="#f7f7f7"/>
<path d="M1550.7,865.7 L1569.4,856.4 L1581.2,864.0 L1588.0,884.4 L1569.4,889.4 L1557.5,879.3 Z" fill="#8a9ad6" stroke="#f0e0e0" stroke-width="3"/>
<path d="M1637.5,1121.5 L1644.5,1123.5 L1650.5,1127 L1658.5,1128.5 L1670.5,1127.5" fill="none" stroke="#b82050" stroke-width="1.8" stroke-linecap="round" stroke-linejoin="round"/>
<ellipse cx="1720.5" cy="1010" rx="11" ry="8" fill="#6a7070" opacity="0.75" filter="url(#clipFb)"/>
<ellipse cx="1718.5" cy="1008" rx="5" ry="4" fill="#4a5050" opacity="0.8" filter="url(#clipFb)"/>
<ellipse cx="1694.5" cy="977" rx="6" ry="6" fill="#cdd0d0" opacity="0.8" filter="url(#clipFb)"/>
<rect x="1" y="77.2" width="479.5" height="508.8" fill="none" stroke="#000" stroke-width="2.4"/>
<rect x="1439.7" y="76.6" width="480.3" height="508.9" fill="none" stroke="#000" stroke-width="2.4"/>
<rect x="6.9" y="794.3" width="476.0" height="435.5" fill="none" stroke="#000" stroke-width="2.4"/>
<rect x="1439.6" y="794" width="480.2" height="436.5" fill="none" stroke="#000" stroke-width="2.4"/>
<rect x="15" y="549.2" width="113" height="4.2" fill="#444"/>
<text x="70" y="576" font-family="'Liberation Sans', Arial, Helvetica, sans-serif" font-size="24" font-weight="normal" font-style="normal" fill="#444" text-anchor="middle" >1mm</text>
<rect x="13.2" y="1193.6" width="116.8" height="3.9" fill="#444"/>
<text x="71.9" y="1220" font-family="'Liberation Sans', Arial, Helvetica, sans-serif" font-size="24" font-weight="normal" font-style="normal" fill="#444" text-anchor="middle" >1mm</text>
<text x="240" y="631.1" font-family="'Liberation Sans', Arial, Helvetica, sans-serif" font-size="28" font-weight="normal" font-style="normal" fill="#231f20" text-anchor="middle" textLength="245.6" lengthAdjust="spacingAndGlyphs" >Esophagus Mucosa</text>
<text x="244.5" y="1273.9" font-family="'Liberation Sans', Arial, Helvetica, sans-serif" font-size="28" font-weight="normal" font-style="normal" fill="#231f20" text-anchor="middle" textLength="147.2" lengthAdjust="spacingAndGlyphs" >Tibial Artery</text>
<text x="1681" y="630.7" font-family="'Liberation Sans', Arial, Helvetica, sans-serif" font-size="28" font-weight="normal" font-style="italic" fill="#231f20" text-anchor="middle" textLength="294.4" lengthAdjust="spacingAndGlyphs" >AZGP1 (SSES = 12.86)</text>
<text x="1681" y="1274" font-family="'Liberation Sans', Arial, Helvetica, sans-serif" font-size="28" font-weight="normal" font-style="italic" fill="#231f20" text-anchor="middle" textLength="297" lengthAdjust="spacingAndGlyphs" >CRTAC1 (SSES = 1.35)</text>
<defs><linearGradient id="cb1" x1="0" y1="0" x2="0" y2="1">
<stop offset="0" stop-color="#c1272b"/><stop offset="0.07" stop-color="#d8232c"/><stop offset="0.18" stop-color="#e65a48"/>
<stop offset="0.29" stop-color="#ee8b6d"/><stop offset="0.39" stop-color="#f3b498"/><stop offset="0.46" stop-color="#ecd3c6"/>
<stop offset="0.52" stop-color="#dcdad8"/><stop offset="0.59" stop-color="#c9d6ea"/><stop offset="0.70" stop-color="#a3bde0"/>
<stop offset="0.85" stop-color="#6d88c6"/><stop offset="1" stop-color="#4454a4"/></linearGradient></defs>
<rect x="1939.5" y="77" width="20.0" height="508" fill="url(#cb1)" stroke="#1c1c2c" stroke-width="1.2"/>
<line x1="1939.5" y1="77" x2="1962.5" y2="77" stroke="#222" stroke-width="2"/>
<line x1="1939.5" y1="585" x2="1962.5" y2="585" stroke="#222" stroke-width="2"/>
<text transform="translate(1991,225.4) rotate(-90)" x="0" y="0" font-family="'Liberation Sans', Arial, Helvetica, sans-serif" font-size="18.5" font-style="italic" fill="#231f20" text-anchor="start" textLength="149.5" lengthAdjust="spacingAndGlyphs">High Expression</text>
<text transform="translate(1991,585.3) rotate(-90)" x="0" y="0" font-family="'Liberation Sans', Arial, Helvetica, sans-serif" font-size="18.5" font-style="italic" fill="#231f20" text-anchor="start" textLength="146" lengthAdjust="spacingAndGlyphs">Low Expression</text>
<defs><linearGradient id="cb2" x1="0" y1="0" x2="0" y2="1">
<stop offset="0" stop-color="#c1272b"/><stop offset="0.07" stop-color="#d8232c"/><stop offset="0.18" stop-color="#e65a48"/>
<stop offset="0.29" stop-color="#ee8b6d"/><stop offset="0.39" stop-color="#f3b498"/><stop offset="0.46" stop-color="#ecd3c6"/>
<stop offset="0.52" stop-color="#dcdad8"/><stop offset="0.59" stop-color="#c9d6ea"/><stop offset="0.70" stop-color="#a3bde0"/>
<stop offset="0.85" stop-color="#6d88c6"/><stop offset="1" stop-color="#4454a4"/></linearGradient></defs>
<rect x="1939.5" y="794" width="20.0" height="436.5" fill="url(#cb2)" stroke="#1c1c2c" stroke-width="1.2"/>
<line x1="1939.5" y1="794" x2="1962.5" y2="794" stroke="#222" stroke-width="2"/>
<line x1="1939.5" y1="1230.5" x2="1962.5" y2="1230.5" stroke="#222" stroke-width="2"/>
<text transform="translate(1991,942.4) rotate(-90)" x="0" y="0" font-family="'Liberation Sans', Arial, Helvetica, sans-serif" font-size="18.5" font-style="italic" fill="#231f20" text-anchor="start" textLength="149.5" lengthAdjust="spacingAndGlyphs">High Expression</text>
<text transform="translate(1991,1230.8) rotate(-90)" x="0" y="0" font-family="'Liberation Sans', Arial, Helvetica, sans-serif" font-size="18.5" font-style="italic" fill="#231f20" text-anchor="start" textLength="146" lengthAdjust="spacingAndGlyphs">Low Expression</text>
<text x="975.7" y="65.1" font-family="'Liberation Sans', Arial, Helvetica, sans-serif" font-size="28" fill="#231f20" text-anchor="middle" textLength="557.2" lengthAdjust="spacingAndGlyphs">Submucosal glands DE analysis volcano plot</text>
<text x="976" y="650" font-family="'Liberation Sans', Arial, Helvetica, sans-serif" font-size="28" fill="#231f20" text-anchor="middle" textLength="132" lengthAdjust="spacingAndGlyphs">Coefficient</text>
<text transform="translate(559,321) rotate(-90)" x="0" y="0" font-family="'Liberation Sans', Arial, Helvetica, sans-serif" font-size="28" fill="#231f20" text-anchor="middle" textLength="311" lengthAdjust="spacingAndGlyphs">-Log10 Adjusted P-Value</text>
<polygon points="656.2,527.8 672.4,524.2 694.0,525.1 712.0,533.2 730.0,538.6 766.0,547.6 819.9,553.0 873.9,547.6 918.9,540.4 945.9,530.5 962.0,525.0 1000.0,529.6 990.9,533.2 963.9,542.2 927.9,553.0 873.9,563.8 823.5,566.5 784.0,564.7 730.0,558.4 694.0,549.4 667.0,536.8 656.2,528.7" fill="#808080" stroke="#808080" stroke-width="1" stroke-linejoin="round"/>
<circle cx="658.1" cy="531.9" r="5.6" fill="#808080" fill-opacity="0.5" stroke="#808080" stroke-opacity="0.5" stroke-width="1.1"/>
<circle cx="662.7" cy="531.1" r="5.6" fill="#808080" fill-opacity="0.5" stroke="#808080" stroke-opacity="0.5" stroke-width="1.1"/>
<circle cx="667.5" cy="528.6" r="5.6" fill="#808080" fill-opacity="0.5" stroke="#808080" stroke-opacity="0.5" stroke-width="1.1"/>
<circle cx="669.5" cy="530.2" r="5.6" fill="#808080" fill-opacity="0.5" stroke="#808080" stroke-opacity="0.5" stroke-width="1.1"/>
<circle cx="673.4" cy="527.9" r="5.6" fill="#808080" fill-opacity="0.5" stroke="#808080" stroke-opacity="0.5" stroke-width="1.1"/>
<circle cx="680.8" cy="528.8" r="5.6" fill="#808080" fill-opacity="0.5" stroke="#808080" stroke-opacity="0.5" stroke-width="1.1"/>
<circle cx="684.5" cy="529.0" r="5.6" fill="#808080" fill-opacity="0.5" stroke="#808080" stroke-opacity="0.5" stroke-width="1.1"/>
<circle cx="688.0" cy="528.3" r="5.6" fill="#808080" fill-opacity="0.5" stroke="#808080" stroke-opacity="0.5" stroke-width="1.1"/>
<circle cx="692.2" cy="530.3" r="5.6" fill="#808080" fill-opacity="0.5" stroke="#808080" stroke-opacity="0.5" stroke-width="1.1"/>
<circle cx="694.3" cy="530.7" r="5.6" fill="#808080" fill-opacity="0.5" stroke="#808080" stroke-opacity="0.5" stroke-width="1.1"/>
<circle cx="700.2" cy="531.4" r="5.6" fill="#808080" fill-opacity="0.5" stroke="#808080" stroke-opacity="0.5" stroke-width="1.1"/>
<circle cx="704.5" cy="534.9" r="5.6" fill="#808080" fill-opacity="0.5" stroke="#808080" stroke-opacity="0.5" stroke-width="1.1"/>
<circle cx="707.6" cy="534.7" r="5.6" fill="#808080" fill-opacity="0.5" stroke="#808080" stroke-opacity="0.5" stroke-width="1.1"/>
<circle cx="714.7" cy="538.5" r="5.6" fill="#808080" fill-opacity="0.5" stroke="#808080" stroke-opacity="0.5" stroke-width="1.1"/>
<circle cx="718.2" cy="540.6" r="5.6" fill="#808080" fill-opacity="0.5" stroke="#808080" stroke-opacity="0.5" stroke-width="1.1"/>
<circle cx="722.7" cy="542.0" r="5.6" fill="#808080" fill-opacity="0.5" stroke="#808080" stroke-opacity="0.5" stroke-width="1.1"/>
<circle cx="725.8" cy="542.7" r="5.6" fill="#808080" fill-opacity="0.5" stroke="#808080" stroke-opacity="0.5" stroke-width="1.1"/>
<circle cx="730.5" cy="544.3" r="5.6" fill="#808080" fill-opacity="0.5" stroke="#808080" stroke-opacity="0.5" stroke-width="1.1"/>
<circle cx="736.7" cy="543.7" r="5.6" fill="#808080" fill-opacity="0.5" stroke="#808080" stroke-opacity="0.5" stroke-width="1.1"/>

<circle cx="744.8" cy="546.6" r="5.6" fill="#808080" fill-opacity="0.5" stroke="#808080" stroke-opacity="0.5" stroke-width="1.1"/>
<circle cx="747.6" cy="547.0" r="5.6" fill="#808080" fill-opacity="0.5" stroke="#808080" stroke-opacity="0.5" stroke-width="1.1"/>
<circle cx="751.0" cy="548.0" r="5.6" fill="#808080" fill-opacity="0.5" stroke="#808080" stroke-opacity="0.5" stroke-width="1.1"/>
<circle cx="754.3" cy="549.4" r="5.6" fill="#808080" fill-opacity="0.5" stroke="#808080" stroke-opacity="0.5" stroke-width="1.1"/>
<circle cx="759.0" cy="551.4" r="5.6" fill="#808080" fill-opacity="0.5" stroke="#808080" stroke-opacity="0.5" stroke-width="1.1"/>
<circle cx="763.4" cy="552.5" r="5.6" fill="#808080" fill-opacity="0.5" stroke="#808080" stroke-opacity="0.5" stroke-width="1.1"/>
<circle cx="769.0" cy="553.5" r="5.6" fill="#808080" fill-opacity="0.5" stroke="#808080" stroke-opacity="0.5" stroke-width="1.1"/>
<circle cx="772.6" cy="551.8" r="5.6" fill="#808080" fill-opacity="0.5" stroke="#808080" stroke-opacity="0.5" stroke-width="1.1"/>
<circle cx="777.3" cy="554.3" r="5.6" fill="#808080" fill-opacity="0.5" stroke="#808080" stroke-opacity="0.5" stroke-width="1.1"/>
<circle cx="781.7" cy="553.7" r="5.6" fill="#808080" fill-opacity="0.5" stroke="#808080" stroke-opacity="0.5" stroke-width="1.1"/>
<circle cx="785.2" cy="553.2" r="5.6" fill="#808080" fill-opacity="0.5" stroke="#808080" stroke-opacity="0.5" stroke-width="1.1"/>
<circle cx="789.7" cy="554.5" r="5.6" fill="#808080" fill-opacity="0.5" stroke="#808080" stroke-opacity="0.5" stroke-width="1.1"/>
<circle cx="791.7" cy="553.4" r="5.6" fill="#808080" fill-opacity="0.5" stroke="#808080" stroke-opacity="0.5" stroke-width="1.1"/>
<circle cx="798.0" cy="556.4" r="5.6" fill="#808080" fill-opacity="0.5" stroke="#808080" stroke-opacity="0.5" stroke-width="1.1"/>

<circle cx="804.7" cy="555.0" r="5.6" fill="#808080" fill-opacity="0.5" stroke="#808080" stroke-opacity="0.5" stroke-width="1.1"/>
<circle cx="808.2" cy="556.9" r="5.6" fill="#808080" fill-opacity="0.5" stroke="#808080" stroke-opacity="0.5" stroke-width="1.1"/>
<circle cx="814.9" cy="555.7" r="5.6" fill="#808080" fill-opacity="0.5" stroke="#808080" stroke-opacity="0.5" stroke-width="1.1"/>
<circle cx="818.0" cy="556.0" r="5.6" fill="#808080" fill-opacity="0.5" stroke="#808080" stroke-opacity="0.5" stroke-width="1.1"/>
<circle cx="823.3" cy="556.6" r="5.6" fill="#808080" fill-opacity="0.5" stroke="#808080" stroke-opacity="0.5" stroke-width="1.1"/>
<circle cx="828.3" cy="557.7" r="5.6" fill="#808080" fill-opacity="0.5" stroke="#808080" stroke-opacity="0.5" stroke-width="1.1"/>
<circle cx="830.9" cy="557.5" r="5.6" fill="#808080" fill-opacity="0.5" stroke="#808080" stroke-opacity="0.5" stroke-width="1.1"/>
<circle cx="834.0" cy="554.9" r="5.6" fill="#808080" fill-opacity="0.5" stroke="#808080" stroke-opacity="0.5" stroke-width="1.1"/>
<circle cx="839.3" cy="554.2" r="5.6" fill="#808080" fill-opacity="0.5" stroke="#808080" stroke-opacity="0.5" stroke-width="1.1"/>
<circle cx="841.9" cy="554.9" r="5.6" fill="#808080" fill-opacity="0.5" stroke="#808080" stroke-opacity="0.5" stroke-width="1.1"/>
<circle cx="847.7" cy="553.7" r="5.6" fill="#808080" fill-opacity="0.5" stroke="#808080" stroke-opacity="0.5" stroke-width="1.1"/>
<circle cx="849.7" cy="555.3" r="5.6" fill="#808080" fill-opacity="0.5" stroke="#808080" stroke-opacity="0.5" stroke-width="1.1"/>
<circle cx="855.0" cy="555.0" r="5.6" fill="#808080" fill-opacity="0.5" stroke="#808080" stroke-opacity="0.5" stroke-width="1.1"/>
<circle cx="861.4" cy="552.9" r="5.6" fill="#808080" fill-opacity="0.5" stroke="#808080" stroke-opacity="0.5" stroke-width="1.1"/>
<circle cx="863.8" cy="553.0" r="5.6" fill="#808080" fill-opacity="0.5" stroke="#808080" stroke-opacity="0.5" stroke-width="1.1"/>
<circle cx="868.7" cy="552.7" r="5.6" fill="#808080" fill-opacity="0.5" stroke="#808080" stroke-opacity="0.5" stroke-width="1.1"/>
<circle cx="872.5" cy="552.4" r="5.6" fill="#808080" fill-opacity="0.5" stroke="#808080" stroke-opacity="0.5" stroke-width="1.1"/>
<circle cx="878.4" cy="551.3" r="5.6" fill="#808080" fill-opacity="0.5" stroke="#808080" stroke-opacity="0.5" stroke-width="1.1"/>
<circle cx="880.5" cy="551.5" r="5.6" fill="#808080" fill-opacity="0.5" stroke="#808080" stroke-opacity="0.5" stroke-width="1.1"/>
<circle cx="883.7" cy="549.9" r="5.6" fill="#808080" fill-opacity="0.5" stroke="#808080" stroke-opacity="0.5" stroke-width="1.1"/>
<circle cx="890.9" cy="549.3" r="5.6" fill="#808080" fill-opacity="0.5" stroke="#808080" stroke-opacity="0.5" stroke-width="1.1"/>
<circle cx="893.0" cy="547.7" r="5.6" fill="#808080" fill-opacity="0.5" stroke="#808080" stroke-opacity="0.5" stroke-width="1.1"/>
<circle cx="896.8" cy="548.5" r="5.6" fill="#808080" fill-opacity="0.5" stroke="#808080" stroke-opacity="0.5" stroke-width="1.1"/>
<circle cx="899.3" cy="548.2" r="5.6" fill="#808080" fill-opacity="0.5" stroke="#808080" stroke-opacity="0.5" stroke-width="1.1"/>
<circle cx="905.6" cy="545.8" r="5.6" fill="#808080" fill-opacity="0.5" stroke="#808080" stroke-opacity="0.5" stroke-width="1.1"/>
<circle cx="909.9" cy="546.2" r="5.6" fill="#808080" fill-opacity="0.5" stroke="#808080" stroke-opacity="0.5" stroke-width="1.1"/>
<circle cx="914.1" cy="545.2" r="5.6" fill="#808080" fill-opacity="0.5" stroke="#808080" stroke-opacity="0.5" stroke-width="1.1"/>
<circle cx="918.5" cy="545.5" r="5.6" fill="#808080" fill-opacity="0.5" stroke="#808080" stroke-opacity="0.5" stroke-width="1.1"/>
<circle cx="920.1" cy="543.4" r="5.6" fill="#808080" fill-opacity="0.5" stroke="#808080" stroke-opacity="0.5" stroke-width="1.1"/>
<circle cx="927.3" cy="543.2" r="5.6" fill="#808080" fill-opacity="0.5" stroke="#808080" stroke-opacity="0.5" stroke-width="1.1"/>
<circle cx="929.0" cy="541.2" r="5.6" fill="#808080" fill-opacity="0.5" stroke="#808080" stroke-opacity="0.5" stroke-width="1.1"/>
<circle cx="934.1" cy="539.0" r="5.6" fill="#808080" fill-opacity="0.5" stroke="#808080" stroke-opacity="0.5" stroke-width="1.1"/>
<circle cx="937.1" cy="537.9" r="5.6" fill="#808080" fill-opacity="0.5" stroke="#808080" stroke-opacity="0.5" stroke-width="1.1"/>
<circle cx="941.2" cy="537.1" r="5.6" fill="#808080" fill-opacity="0.5" stroke="#808080" stroke-opacity="0.5" stroke-width="1.1"/>
<circle cx="944.6" cy="535.3" r="5.6" fill="#808080" fill-opacity="0.5" stroke="#808080" stroke-opacity="0.5" stroke-width="1.1"/>
<circle cx="950.0" cy="532.4" r="5.6" fill="#808080" fill-opacity="0.5" stroke="#808080" stroke-opacity="0.5" stroke-width="1.1"/>
<circle cx="953.8" cy="533.0" r="5.6" fill="#808080" fill-opacity="0.5" stroke="#808080" stroke-opacity="0.5" stroke-width="1.1"/>
<circle cx="956.4" cy="530.8" r="5.6" fill="#808080" fill-opacity="0.5" stroke="#808080" stroke-opacity="0.5" stroke-width="1.1"/>
<circle cx="962.4" cy="528.8" r="5.6" fill="#808080" fill-opacity="0.5" stroke="#808080" stroke-opacity="0.5" stroke-width="1.1"/>
<circle cx="694.0" cy="525.0" r="5.6" fill="#808080" fill-opacity="0.35" stroke="#808080" stroke-opacity="0.35" stroke-width="1.1"/>
<circle cx="712.0" cy="532.0" r="5.6" fill="#808080" fill-opacity="0.35" stroke="#808080" stroke-opacity="0.35" stroke-width="1.1"/>
<circle cx="731.0" cy="538.0" r="5.6" fill="#808080" fill-opacity="0.35" stroke="#808080" stroke-opacity="0.35" stroke-width="1.1"/>
<circle cx="744.0" cy="540.0" r="5.6" fill="#808080" fill-opacity="0.35" stroke="#808080" stroke-opacity="0.35" stroke-width="1.1"/>
<circle cx="760.0" cy="545.0" r="5.6" fill="#808080" fill-opacity="0.35" stroke="#808080" stroke-opacity="0.35" stroke-width="1.1"/>
<circle cx="880.0" cy="545.0" r="5.6" fill="#808080" fill-opacity="0.35" stroke="#808080" stroke-opacity="0.35" stroke-width="1.1"/>
<circle cx="900.0" cy="541.0" r="5.6" fill="#808080" fill-opacity="0.35" stroke="#808080" stroke-opacity="0.35" stroke-width="1.1"/>
<circle cx="925.0" cy="535.0" r="5.6" fill="#808080" fill-opacity="0.35" stroke="#808080" stroke-opacity="0.35" stroke-width="1.1"/>
<circle cx="940.0" cy="530.0" r="5.6" fill="#808080" fill-opacity="0.35" stroke="#808080" stroke-opacity="0.35" stroke-width="1.1"/>
<circle cx="950.0" cy="528.0" r="5.6" fill="#808080" fill-opacity="0.35" stroke="#808080" stroke-opacity="0.35" stroke-width="1.1"/>
<polygon points="954.8,525.3 970.8,518.0 989.3,514.2 997.9,503.2 1013.9,490.8 1023.7,487.1 1038.5,468.7 1057.0,453.9 1069.3,449.0 1081.6,437.0 1093.0,428.0 1101.0,423.0 1104.0,425.0 1102.0,433.0 1093.9,444.0 1081.6,456.4 1069.3,469.9 1057.0,481.0 1044.7,490.8 1032.4,503.2 1020.0,513.0 1001.6,525.3 983.1,532.7 958.5,531.5" fill="#e3242b" stroke="#e3242b" stroke-width="1" stroke-linejoin="round"/>
<circle cx="959.3" cy="528.7" r="5.6" fill="#e3242b" fill-opacity="0.5" stroke="#e3242b" stroke-opacity="0.5" stroke-width="1.1"/>
<circle cx="964.2" cy="527.0" r="5.6" fill="#e3242b" fill-opacity="0.5" stroke="#e3242b" stroke-opacity="0.5" stroke-width="1.1"/>
<circle cx="968.0" cy="525.2" r="5.6" fill="#e3242b" fill-opacity="0.5" stroke="#e3242b" stroke-opacity="0.5" stroke-width="1.1"/>
<circle cx="968.7" cy="523.6" r="5.6" fill="#e3242b" fill-opacity="0.5" stroke="#e3242b" stroke-opacity="0.5" stroke-width="1.1"/>
<circle cx="976.1" cy="521.7" r="5.6" fill="#e3242b" fill-opacity="0.5" stroke="#e3242b" stroke-opacity="0.5" stroke-width="1.1"/>
<circle cx="980.3" cy="519.5" r="5.6" fill="#e3242b" fill-opacity="0.5" stroke="#e3242b" stroke-opacity="0.5" stroke-width="1.1"/>
<circle cx="983.0" cy="519.3" r="5.6" fill="#e3242b" fill-opacity="0.5" stroke="#e3242b" stroke-opacity="0.5" stroke-width="1.1"/>
<circle cx="988.1" cy="519.1" r="5.6" fill="#e3242b" fill-opacity="0.5" stroke="#e3242b" stroke-opacity="0.5" stroke-width="1.1"/>
<circle cx="992.2" cy="516.4" r="5.6" fill="#e3242b" fill-opacity="0.5" stroke="#e3242b" stroke-opacity="0.5" stroke-width="1.1"/>
<circle cx="997.2" cy="512.8" r="5.6" fill="#e3242b" fill-opacity="0.5" stroke="#e3242b" stroke-opacity="0.5" stroke-width="1.1"/>
<circle cx="1000.0" cy="506.2" r="5.6" fill="#e3242b" fill-opacity="0.5" stroke="#e3242b" stroke-opacity="0.5" stroke-width="1.1"/>
<circle cx="1002.6" cy="503.9" r="5.6" fill="#e3242b" fill-opacity="0.5" stroke="#e3242b" stroke-opacity="0.5" stroke-width="1.1"/>
<circle cx="1005.2" cy="501.9" r="5.6" fill="#e3242b" fill-opacity="0.5" stroke="#e3242b" stroke-opacity="0.5" stroke-width="1.1"/>
<circle cx="1007.5" cy="502.4" r="5.6" fill="#e3242b" fill-opacity="0.5" stroke="#e3242b" stroke-opacity="0.5" stroke-width="1.1"/>
<circle cx="1010.4" cy="498.1" r="5.6" fill="#e3242b" fill-opacity="0.5" stroke="#e3242b" stroke-opacity="0.5" stroke-width="1.1"/>
<circle cx="1017.1" cy="495.0" r="5.6" fill="#e3242b" fill-opacity="0.5" stroke="#e3242b" stroke-opacity="0.5" stroke-width="1.1"/>

<circle cx="1023.1" cy="492.4" r="5.6" fill="#e3242b" fill-opacity="0.5" stroke="#e3242b" stroke-opacity="0.5" stroke-width="1.1"/>
<circle cx="1028.6" cy="489.8" r="5.6" fill="#e3242b" fill-opacity="0.5" stroke="#e3242b" stroke-opacity="0.5" stroke-width="1.1"/>
<circle cx="1033.0" cy="484.3" r="5.6" fill="#e3242b" fill-opacity="0.5" stroke="#e3242b" stroke-opacity="0.5" stroke-width="1.1"/>
<circle cx="1035.3" cy="478.9" r="5.6" fill="#e3242b" fill-opacity="0.5" stroke="#e3242b" stroke-opacity="0.5" stroke-width="1.1"/>
<circle cx="1036.4" cy="476.9" r="5.6" fill="#e3242b" fill-opacity="0.5" stroke="#e3242b" stroke-opacity="0.5" stroke-width="1.1"/>
<circle cx="1038.5" cy="473.9" r="5.6" fill="#e3242b" fill-opacity="0.5" stroke="#e3242b" stroke-opacity="0.5" stroke-width="1.1"/>
<circle cx="1042.5" cy="471.4" r="5.6" fill="#e3242b" fill-opacity="0.5" stroke="#e3242b" stroke-opacity="0.5" stroke-width="1.1"/>
<circle cx="1045.2" cy="469.5" r="5.6" fill="#e3242b" fill-opacity="0.5" stroke="#e3242b" stroke-opacity="0.5" stroke-width="1.1"/>
<circle cx="1049.6" cy="464.8" r="5.6" fill="#e3242b" fill-opacity="0.5" stroke="#e3242b" stroke-opacity="0.5" stroke-width="1.1"/>
<circle cx="1055.3" cy="460.7" r="5.6" fill="#e3242b" fill-opacity="0.5" stroke="#e3242b" stroke-opacity="0.5" stroke-width="1.1"/>
<circle cx="1057.2" cy="459.3" r="5.6" fill="#e3242b" fill-opacity="0.5" stroke="#e3242b" stroke-opacity="0.5" stroke-width="1.1"/>
<circle cx="1061.1" cy="455.7" r="5.6" fill="#e3242b" fill-opacity="0.5" stroke="#e3242b" stroke-opacity="0.5" stroke-width="1.1"/>
<circle cx="1066.3" cy="453.6" r="5.6" fill="#e3242b" fill-opacity="0.5" stroke="#e3242b" stroke-opacity="0.5" stroke-width="1.1"/>
<circle cx="1070.2" cy="454.2" r="5.6" fill="#e3242b" fill-opacity="0.5" stroke="#e3242b" stroke-opacity="0.5" stroke-width="1.1"/>
<circle cx="1072.9" cy="452.6" r="5.6" fill="#e3242b" fill-opacity="0.5" stroke="#e3242b" stroke-opacity="0.5" stroke-width="1.1"/>
<circle cx="1076.7" cy="448.1" r="5.6" fill="#e3242b" fill-opacity="0.5" stroke="#e3242b" stroke-opacity="0.5" stroke-width="1.1"/>
<circle cx="1077.7" cy="445.3" r="5.6" fill="#e3242b" fill-opacity="0.5" stroke="#e3242b" stroke-opacity="0.5" stroke-width="1.1"/>
<circle cx="1082.9" cy="443.4" r="5.6" fill="#e3242b" fill-opacity="0.5" stroke="#e3242b" stroke-opacity="0.5" stroke-width="1.1"/>
<circle cx="1085.4" cy="440.3" r="5.6" fill="#e3242b" fill-opacity="0.5" stroke="#e3242b" stroke-opacity="0.5" stroke-width="1.1"/>
<circle cx="1092.3" cy="435.5" r="5.6" fill="#e3242b" fill-opacity="0.5" stroke="#e3242b" stroke-opacity="0.5" stroke-width="1.1"/>
<circle cx="1093.0" cy="433.1" r="5.6" fill="#e3242b" fill-opacity="0.5" stroke="#e3242b" stroke-opacity="0.5" stroke-width="1.1"/>
<circle cx="1097.8" cy="431.0" r="5.6" fill="#e3242b" fill-opacity="0.5" stroke="#e3242b" stroke-opacity="0.5" stroke-width="1.1"/>
<circle cx="1100.1" cy="429.4" r="5.6" fill="#e3242b" fill-opacity="0.5" stroke="#e3242b" stroke-opacity="0.5" stroke-width="1.1"/>
<circle cx="962.0" cy="526.4" r="5.6" fill="#e3242b" fill-opacity="0.5" stroke="#e3242b" stroke-opacity="0.5" stroke-width="1.1"/>

<circle cx="967.3" cy="528.0" r="5.6" fill="#e3242b" fill-opacity="0.5" stroke="#e3242b" stroke-opacity="0.5" stroke-width="1.1"/>
<circle cx="973.6" cy="526.8" r="5.6" fill="#e3242b" fill-opacity="0.5" stroke="#e3242b" stroke-opacity="0.5" stroke-width="1.1"/>
<circle cx="976.6" cy="527.0" r="5.6" fill="#e3242b" fill-opacity="0.5" stroke="#e3242b" stroke-opacity="0.5" stroke-width="1.1"/>
<circle cx="981.4" cy="528.7" r="5.6" fill="#e3242b" fill-opacity="0.5" stroke="#e3242b" stroke-opacity="0.5" stroke-width="1.1"/>
<circle cx="983.3" cy="528.8" r="5.6" fill="#e3242b" fill-opacity="0.5" stroke="#e3242b" stroke-opacity="0.5" stroke-width="1.1"/>
<circle cx="986.8" cy="527.5" r="5.6" fill="#e3242b" fill-opacity="0.5" stroke="#e3242b" stroke-opacity="0.5" stroke-width="1.1"/>
<circle cx="993.5" cy="522.5" r="5.6" fill="#e3242b" fill-opacity="0.5" stroke="#e3242b" stroke-opacity="0.5" stroke-width="1.1"/>
<circle cx="996.5" cy="523.9" r="5.6" fill="#e3242b" fill-opacity="0.5" stroke="#e3242b" stroke-opacity="0.5" stroke-width="1.1"/>
<circle cx="1002.8" cy="519.2" r="5.6" fill="#e3242b" fill-opacity="0.5" stroke="#e3242b" stroke-opacity="0.5" stroke-width="1.1"/>
<circle cx="1004.7" cy="518.8" r="5.6" fill="#e3242b" fill-opacity="0.5" stroke="#e3242b" stroke-opacity="0.5" stroke-width="1.1"/>
<circle cx="1008.3" cy="514.6" r="5.6" fill="#e3242b" fill-opacity="0.5" stroke="#e3242b" stroke-opacity="0.5" stroke-width="1.1"/>
<circle cx="1012.0" cy="513.4" r="5.6" fill="#e3242b" fill-opacity="0.5" stroke="#e3242b" stroke-opacity="0.5" stroke-width="1.1"/>
<circle cx="1013.5" cy="510.8" r="5.6" fill="#e3242b" fill-opacity="0.5" stroke="#e3242b" stroke-opacity="0.5" stroke-width="1.1"/>
<circle cx="1017.5" cy="509.5" r="5.6" fill="#e3242b" fill-opacity="0.5" stroke="#e3242b" stroke-opacity="0.5" stroke-width="1.1"/>
<circle cx="1025.5" cy="504.3" r="5.6" fill="#e3242b" fill-opacity="0.5" stroke="#e3242b" stroke-opacity="0.5" stroke-width="1.1"/>
<circle cx="1027.9" cy="499.8" r="5.6" fill="#e3242b" fill-opacity="0.5" stroke="#e3242b" stroke-opacity="0.5" stroke-width="1.1"/>
<circle cx="1030.7" cy="497.7" r="5.6" fill="#e3242b" fill-opacity="0.5" stroke="#e3242b" stroke-opacity="0.5" stroke-width="1.1"/>
<circle cx="1032.8" cy="496.8" r="5.6" fill="#e3242b" fill-opacity="0.5" stroke="#e3242b" stroke-opacity="0.5" stroke-width="1.1"/>
<circle cx="1035.3" cy="492.9" r="5.6" fill="#e3242b" fill-opacity="0.5" stroke="#e3242b" stroke-opacity="0.5" stroke-width="1.1"/>
<circle cx="1039.5" cy="490.0" r="5.6" fill="#e3242b" fill-opacity="0.5" stroke="#e3242b" stroke-opacity="0.5" stroke-width="1.1"/>
<circle cx="1045.5" cy="483.4" r="5.6" fill="#e3242b" fill-opacity="0.5" stroke="#e3242b" stroke-opacity="0.5" stroke-width="1.1"/>
<circle cx="1050.2" cy="481.0" r="5.6" fill="#e3242b" fill-opacity="0.5" stroke="#e3242b" stroke-opacity="0.5" stroke-width="1.1"/>
<circle cx="1051.8" cy="478.8" r="5.6" fill="#e3242b" fill-opacity="0.5" stroke="#e3242b" stroke-opacity="0.5" stroke-width="1.1"/>
<circle cx="1055.9" cy="476.8" r="5.6" fill="#e3242b" fill-opacity="0.5" stroke="#e3242b" stroke-opacity="0.5" stroke-width="1.1"/>
<circle cx="1059.0" cy="474.5" r="5.6" fill="#e3242b" fill-opacity="0.5" stroke="#e3242b" stroke-opacity="0.5" stroke-width="1.1"/>
<circle cx="1060.6" cy="470.3" r="5.6" fill="#e3242b" fill-opacity="0.5" stroke="#e3242b" stroke-opacity="0.5" stroke-width="1.1"/>
<circle cx="1066.1" cy="466.6" r="5.6" fill="#e3242b" fill-opacity="0.5" stroke="#e3242b" stroke-opacity="0.5" stroke-width="1.1"/>
<circle cx="1067.9" cy="465.6" r="5.6" fill="#e3242b" fill-opacity="0.5" stroke="#e3242b" stroke-opacity="0.5" stroke-width="1.1"/>
<circle cx="1069.9" cy="463.7" r="5.6" fill="#e3242b" fill-opacity="0.5" stroke="#e3242b" stroke-opacity="0.5" stroke-width="1.1"/>
<circle cx="1074.0" cy="457.0" r="5.6" fill="#e3242b" fill-opacity="0.5" stroke="#e3242b" stroke-opacity="0.5" stroke-width="1.1"/>
<circle cx="1075.9" cy="455.1" r="5.6" fill="#e3242b" fill-opacity="0.5" stroke="#e3242b" stroke-opacity="0.5" stroke-width="1.1"/>
<circle cx="1080.6" cy="450.6" r="5.6" fill="#e3242b" fill-opacity="0.5" stroke="#e3242b" stroke-opacity="0.5" stroke-width="1.1"/>
<circle cx="1083.2" cy="447.7" r="5.6" fill="#e3242b" fill-opacity="0.5" stroke="#e3242b" stroke-opacity="0.5" stroke-width="1.1"/>
<circle cx="1085.4" cy="445.7" r="5.6" fill="#e3242b" fill-opacity="0.5" stroke="#e3242b" stroke-opacity="0.5" stroke-width="1.1"/>
<circle cx="1088.6" cy="443.2" r="5.6" fill="#e3242b" fill-opacity="0.5" stroke="#e3242b" stroke-opacity="0.5" stroke-width="1.1"/>
<circle cx="1092.1" cy="438.3" r="5.6" fill="#e3242b" fill-opacity="0.5" stroke="#e3242b" stroke-opacity="0.5" stroke-width="1.1"/>



<circle cx="1098.6" cy="426.8" r="5.6" fill="#e3242b" fill-opacity="0.5" stroke="#e3242b" stroke-opacity="0.5" stroke-width="1.1"/>
<circle cx="1233.3" cy="246.8" r="5.6" fill="#e3242b" fill-opacity="0.5" stroke="#e3242b" stroke-opacity="0.5" stroke-width="1.1"/>
<circle cx="1165.0" cy="254.8" r="5.6" fill="#e3242b" fill-opacity="0.5" stroke="#e3242b" stroke-opacity="0.5" stroke-width="1.1"/>
<circle cx="1190.9" cy="251.1" r="5.6" fill="#e3242b" fill-opacity="0.5" stroke="#e3242b" stroke-opacity="0.5" stroke-width="1.1"/>
<circle cx="1168.1" cy="272.0" r="5.6" fill="#e3242b" fill-opacity="0.5" stroke="#e3242b" stroke-opacity="0.5" stroke-width="1.1"/>
<circle cx="1177.9" cy="270.2" r="5.6" fill="#e3242b" fill-opacity="0.5" stroke="#e3242b" stroke-opacity="0.5" stroke-width="1.1"/>
<circle cx="1155.1" cy="278.8" r="5.6" fill="#e3242b" fill-opacity="0.5" stroke="#e3242b" stroke-opacity="0.5" stroke-width="1.1"/>
<circle cx="1205.6" cy="272.6" r="5.6" fill="#e3242b" fill-opacity="0.5" stroke="#e3242b" stroke-opacity="0.5" stroke-width="1.1"/>

<circle cx="1214.9" cy="270.8" r="5.6" fill="#e3242b" fill-opacity="0.5" stroke="#e3242b" stroke-opacity="0.5" stroke-width="1.1"/>
<circle cx="1185.3" cy="281.9" r="5.6" fill="#e3242b" fill-opacity="0.5" stroke="#e3242b" stroke-opacity="0.5" stroke-width="1.1"/>
<circle cx="1192.7" cy="286.8" r="5.6" fill="#e3242b" fill-opacity="0.5" stroke="#e3242b" stroke-opacity="0.5" stroke-width="1.1"/>
<circle cx="1206.9" cy="286.8" r="5.6" fill="#e3242b" fill-opacity="0.5" stroke="#e3242b" stroke-opacity="0.5" stroke-width="1.1"/>
<circle cx="1173.0" cy="289.9" r="5.6" fill="#e3242b" fill-opacity="0.5" stroke="#e3242b" stroke-opacity="0.5" stroke-width="1.1"/>
<circle cx="1135.4" cy="293.6" r="5.6" fill="#e3242b" fill-opacity="0.5" stroke="#e3242b" stroke-opacity="0.5" stroke-width="1.1"/>
<circle cx="1196.4" cy="293.0" r="5.6" fill="#e3242b" fill-opacity="0.5" stroke="#e3242b" stroke-opacity="0.5" stroke-width="1.1"/>
<circle cx="1185.3" cy="297.9" r="5.6" fill="#e3242b" fill-opacity="0.5" stroke="#e3242b" stroke-opacity="0.5" stroke-width="1.1"/>
<circle cx="1195.2" cy="303.4" r="5.6" fill="#e3242b" fill-opacity="0.5" stroke="#e3242b" stroke-opacity="0.5" stroke-width="1.1"/>
<circle cx="1131.7" cy="315.1" r="5.6" fill="#e3242b" fill-opacity="0.5" stroke="#e3242b" stroke-opacity="0.5" stroke-width="1.1"/>
<circle cx="1155.1" cy="311.4" r="5.6" fill="#e3242b" fill-opacity="0.5" stroke="#e3242b" stroke-opacity="0.5" stroke-width="1.1"/>
<circle cx="1150.2" cy="318.2" r="5.6" fill="#e3242b" fill-opacity="0.5" stroke="#e3242b" stroke-opacity="0.5" stroke-width="1.1"/>
<circle cx="1174.2" cy="312.7" r="5.6" fill="#e3242b" fill-opacity="0.5" stroke="#e3242b" stroke-opacity="0.5" stroke-width="1.1"/>

<circle cx="1174.9" cy="315.1" r="5.6" fill="#e3242b" fill-opacity="0.5" stroke="#e3242b" stroke-opacity="0.5" stroke-width="1.1"/>
<circle cx="1172.4" cy="318.2" r="5.6" fill="#e3242b" fill-opacity="0.5" stroke="#e3242b" stroke-opacity="0.5" stroke-width="1.1"/>

<circle cx="1176.1" cy="321.3" r="5.6" fill="#e3242b" fill-opacity="0.5" stroke="#e3242b" stroke-opacity="0.5" stroke-width="1.1"/>
<circle cx="1187.2" cy="307.7" r="5.6" fill="#e3242b" fill-opacity="0.5" stroke="#e3242b" stroke-opacity="0.5" stroke-width="1.1"/>
<circle cx="1187.8" cy="317.6" r="5.6" fill="#e3242b" fill-opacity="0.5" stroke="#e3242b" stroke-opacity="0.5" stroke-width="1.1"/>
<circle cx="1193.9" cy="315.1" r="5.6" fill="#e3242b" fill-opacity="0.5" stroke="#e3242b" stroke-opacity="0.5" stroke-width="1.1"/>
<circle cx="1153.3" cy="331.7" r="5.6" fill="#e3242b" fill-opacity="0.5" stroke="#e3242b" stroke-opacity="0.5" stroke-width="1.1"/>
<circle cx="1158.2" cy="331.7" r="5.6" fill="#e3242b" fill-opacity="0.5" stroke="#e3242b" stroke-opacity="0.5" stroke-width="1.1"/>
<circle cx="1170.5" cy="331.1" r="5.6" fill="#e3242b" fill-opacity="0.5" stroke="#e3242b" stroke-opacity="0.5" stroke-width="1.1"/>
<circle cx="1168.7" cy="337.3" r="5.6" fill="#e3242b" fill-opacity="0.5" stroke="#e3242b" stroke-opacity="0.5" stroke-width="1.1"/>
<circle cx="1164.4" cy="342.2" r="5.6" fill="#e3242b" fill-opacity="0.5" stroke="#e3242b" stroke-opacity="0.5" stroke-width="1.1"/>
<circle cx="1168.7" cy="344.1" r="5.6" fill="#e3242b" fill-opacity="0.5" stroke="#e3242b" stroke-opacity="0.5" stroke-width="1.1"/>
<circle cx="1161.3" cy="347.1" r="5.6" fill="#e3242b" fill-opacity="0.5" stroke="#e3242b" stroke-opacity="0.5" stroke-width="1.1"/>

<circle cx="1148.4" cy="348.4" r="5.6" fill="#e3242b" fill-opacity="0.5" stroke="#e3242b" stroke-opacity="0.5" stroke-width="1.1"/>
<circle cx="1148.4" cy="352.1" r="5.6" fill="#e3242b" fill-opacity="0.5" stroke="#e3242b" stroke-opacity="0.5" stroke-width="1.1"/>
<circle cx="1158.8" cy="353.9" r="5.6" fill="#e3242b" fill-opacity="0.5" stroke="#e3242b" stroke-opacity="0.5" stroke-width="1.1"/>

<circle cx="1133.0" cy="349.6" r="5.6" fill="#e3242b" fill-opacity="0.5" stroke="#e3242b" stroke-opacity="0.5" stroke-width="1.1"/>
<circle cx="1131.1" cy="356.4" r="5.6" fill="#e3242b" fill-opacity="0.5" stroke="#e3242b" stroke-opacity="0.5" stroke-width="1.1"/>
<circle cx="1131.7" cy="361.9" r="5.6" fill="#e3242b" fill-opacity="0.5" stroke="#e3242b" stroke-opacity="0.5" stroke-width="1.1"/>
<circle cx="1145.3" cy="363.8" r="5.6" fill="#e3242b" fill-opacity="0.5" stroke="#e3242b" stroke-opacity="0.5" stroke-width="1.1"/>
<circle cx="1144.1" cy="373.0" r="5.6" fill="#e3242b" fill-opacity="0.5" stroke="#e3242b" stroke-opacity="0.5" stroke-width="1.1"/>
<circle cx="1105.9" cy="368.7" r="5.6" fill="#e3242b" fill-opacity="0.5" stroke="#e3242b" stroke-opacity="0.5" stroke-width="1.1"/>
<circle cx="1116.4" cy="382.2" r="5.6" fill="#e3242b" fill-opacity="0.5" stroke="#e3242b" stroke-opacity="0.5" stroke-width="1.1"/>

<circle cx="1121.3" cy="382.2" r="5.6" fill="#e3242b" fill-opacity="0.5" stroke="#e3242b" stroke-opacity="0.5" stroke-width="1.1"/>
<circle cx="1089.3" cy="390.9" r="5.6" fill="#e3242b" fill-opacity="0.5" stroke="#e3242b" stroke-opacity="0.5" stroke-width="1.1"/>
<circle cx="1138.5" cy="389.6" r="5.6" fill="#e3242b" fill-opacity="0.5" stroke="#e3242b" stroke-opacity="0.5" stroke-width="1.1"/>
<circle cx="1104.7" cy="397.6" r="5.6" fill="#e3242b" fill-opacity="0.5" stroke="#e3242b" stroke-opacity="0.5" stroke-width="1.1"/>
<circle cx="1122.5" cy="393.9" r="5.6" fill="#e3242b" fill-opacity="0.5" stroke="#e3242b" stroke-opacity="0.5" stroke-width="1.1"/>

<circle cx="1289.1" cy="98.2" r="5.6" fill="#e3242b" fill-opacity="0.5" stroke="#e3242b" stroke-opacity="0.5" stroke-width="1.1"/>
<circle cx="1292.8" cy="114.2" r="5.6" fill="#e3242b" fill-opacity="0.5" stroke="#e3242b" stroke-opacity="0.5" stroke-width="1.1"/>
<circle cx="1265.5" cy="191.0" r="5.6" fill="#e3242b" fill-opacity="0.5" stroke="#e3242b" stroke-opacity="0.5" stroke-width="1.1"/>
<circle cx="1179.8" cy="196.1" r="5.6" fill="#e3242b" fill-opacity="0.5" stroke="#e3242b" stroke-opacity="0.5" stroke-width="1.1"/>
<circle cx="1230.8" cy="190.7" r="5.6" fill="#e3242b" fill-opacity="0.5" stroke="#e3242b" stroke-opacity="0.5" stroke-width="1.1"/>
<circle cx="1225.1" cy="196.4" r="5.6" fill="#e3242b" fill-opacity="0.5" stroke="#e3242b" stroke-opacity="0.5" stroke-width="1.1"/>
<circle cx="1246.3" cy="196.4" r="5.6" fill="#e3242b" fill-opacity="0.5" stroke="#e3242b" stroke-opacity="0.5" stroke-width="1.1"/>
<circle cx="1245.6" cy="202.0" r="5.6" fill="#e3242b" fill-opacity="0.5" stroke="#e3242b" stroke-opacity="0.5" stroke-width="1.1"/>
<circle cx="1247.0" cy="199.0" r="5.6" fill="#e3242b" fill-opacity="0.5" stroke="#e3242b" stroke-opacity="0.5" stroke-width="1.1"/>
<circle cx="1233.6" cy="214.1" r="5.6" fill="#e3242b" fill-opacity="0.5" stroke="#e3242b" stroke-opacity="0.5" stroke-width="1.1"/>

<circle cx="1235.0" cy="217.0" r="5.6" fill="#e3242b" fill-opacity="0.5" stroke="#e3242b" stroke-opacity="0.5" stroke-width="1.1"/>
<circle cx="1246.3" cy="212.7" r="5.6" fill="#e3242b" fill-opacity="0.5" stroke="#e3242b" stroke-opacity="0.5" stroke-width="1.1"/>
<circle cx="1213.8" cy="220.8" r="5.6" fill="#e3242b" fill-opacity="0.5" stroke="#e3242b" stroke-opacity="0.5" stroke-width="1.1"/>
<circle cx="1179.8" cy="224.7" r="5.6" fill="#e3242b" fill-opacity="0.5" stroke="#e3242b" stroke-opacity="0.5" stroke-width="1.1"/>
<circle cx="1161.4" cy="229.0" r="5.6" fill="#e3242b" fill-opacity="0.5" stroke="#e3242b" stroke-opacity="0.5" stroke-width="1.1"/>
<circle cx="1213.0" cy="234.6" r="5.6" fill="#e3242b" fill-opacity="0.5" stroke="#e3242b" stroke-opacity="0.5" stroke-width="1.1"/>
<circle cx="1233.6" cy="228.7" r="5.6" fill="#e3242b" fill-opacity="0.5" stroke="#e3242b" stroke-opacity="0.5" stroke-width="1.1"/>
<circle cx="1241.7" cy="231.8" r="5.6" fill="#e3242b" fill-opacity="0.5" stroke="#e3242b" stroke-opacity="0.5" stroke-width="1.1"/>



<circle cx="1054.5" cy="438.5" r="5.6" fill="#e3242b" fill-opacity="0.5" stroke="#e3242b" stroke-opacity="0.5" stroke-width="1.1"/>
<circle cx="1074.2" cy="437.9" r="5.6" fill="#e3242b" fill-opacity="0.5" stroke="#e3242b" stroke-opacity="0.5" stroke-width="1.1"/>
<circle cx="1082.9" cy="421.3" r="5.6" fill="#e3242b" fill-opacity="0.5" stroke="#e3242b" stroke-opacity="0.5" stroke-width="1.1"/>
<circle cx="1089.6" cy="410.8" r="5.6" fill="#e3242b" fill-opacity="0.5" stroke="#e3242b" stroke-opacity="0.5" stroke-width="1.1"/>
<circle cx="1089.6" cy="413.3" r="5.6" fill="#e3242b" fill-opacity="0.5" stroke="#e3242b" stroke-opacity="0.5" stroke-width="1.1"/>
<circle cx="1101.3" cy="414.5" r="5.6" fill="#e3242b" fill-opacity="0.5" stroke="#e3242b" stroke-opacity="0.5" stroke-width="1.1"/>

<circle cx="1108.7" cy="407.1" r="5.6" fill="#e3242b" fill-opacity="0.5" stroke="#e3242b" stroke-opacity="0.5" stroke-width="1.1"/>
<circle cx="1110.0" cy="412.0" r="5.6" fill="#e3242b" fill-opacity="0.5" stroke="#e3242b" stroke-opacity="0.5" stroke-width="1.1"/>
<circle cx="1122.3" cy="396.0" r="5.6" fill="#e3242b" fill-opacity="0.5" stroke="#e3242b" stroke-opacity="0.5" stroke-width="1.1"/>
<circle cx="1122.3" cy="404.6" r="5.6" fill="#e3242b" fill-opacity="0.5" stroke="#e3242b" stroke-opacity="0.5" stroke-width="1.1"/>
<circle cx="1038.5" cy="471.7" r="5.6" fill="#e3242b" fill-opacity="0.5" stroke="#e3242b" stroke-opacity="0.5" stroke-width="1.1"/>
<circle cx="1012.7" cy="492.7" r="5.6" fill="#e3242b" fill-opacity="0.5" stroke="#e3242b" stroke-opacity="0.5" stroke-width="1.1"/>
<circle cx="1022.5" cy="489.0" r="5.6" fill="#e3242b" fill-opacity="0.5" stroke="#e3242b" stroke-opacity="0.5" stroke-width="1.1"/>
<circle cx="997.9" cy="504.4" r="5.6" fill="#e3242b" fill-opacity="0.5" stroke="#e3242b" stroke-opacity="0.5" stroke-width="1.1"/>
<circle cx="959.7" cy="525.9" r="5.6" fill="#e3242b" fill-opacity="0.5" stroke="#e3242b" stroke-opacity="0.5" stroke-width="1.1"/>
<circle cx="1106.2" cy="370.8" r="5.6" fill="#e3242b" fill-opacity="0.5" stroke="#e3242b" stroke-opacity="0.5" stroke-width="1.1"/>

<circle cx="1119.3" cy="381.5" r="5.6" fill="#e3242b" fill-opacity="0.5" stroke="#e3242b" stroke-opacity="0.5" stroke-width="1.1"/>



<circle cx="1107.0" cy="398.5" r="5.6" fill="#e3242b" fill-opacity="0.5" stroke="#e3242b" stroke-opacity="0.5" stroke-width="1.1"/>


<circle cx="1122.4" cy="402.3" r="5.6" fill="#e3242b" fill-opacity="0.5" stroke="#e3242b" stroke-opacity="0.5" stroke-width="1.1"/>
<circle cx="1123.9" cy="406.2" r="5.6" fill="#e3242b" fill-opacity="0.5" stroke="#e3242b" stroke-opacity="0.5" stroke-width="1.1"/>
<circle cx="1126.2" cy="404.6" r="5.6" fill="#e3242b" fill-opacity="0.5" stroke="#e3242b" stroke-opacity="0.5" stroke-width="1.1"/>


<circle cx="1089.3" cy="416.2" r="5.6" fill="#e3242b" fill-opacity="0.5" stroke="#e3242b" stroke-opacity="0.5" stroke-width="1.1"/>




<circle cx="1110.1" cy="420.0" r="5.6" fill="#e3242b" fill-opacity="0.5" stroke="#e3242b" stroke-opacity="0.5" stroke-width="1.1"/>
<circle cx="1107.0" cy="425.4" r="5.6" fill="#e3242b" fill-opacity="0.5" stroke="#e3242b" stroke-opacity="0.5" stroke-width="1.1"/>

<circle cx="1083.9" cy="437.0" r="5.6" fill="#e3242b" fill-opacity="0.5" stroke="#e3242b" stroke-opacity="0.5" stroke-width="1.1"/>
<circle cx="1095.4" cy="428.5" r="5.6" fill="#e3242b" fill-opacity="0.5" stroke="#e3242b" stroke-opacity="0.5" stroke-width="1.1"/>
<circle cx="664.6" cy="509.8" r="5.6" fill="#4455a6" fill-opacity="0.5" stroke="#4455a6" stroke-opacity="0.5" stroke-width="1.1"/>
<circle cx="656.2" cy="524.2" r="5.6" fill="#4455a6" fill-opacity="0.6" stroke="#4455a6" stroke-opacity="0.6" stroke-width="1.1"/>
<circle cx="663.4" cy="525.1" r="5.6" fill="#4455a6" fill-opacity="0.6" stroke="#4455a6" stroke-opacity="0.6" stroke-width="1.1"/>
<circle cx="661.0" cy="530.0" r="5.6" fill="#4455a6" fill-opacity="0.6" stroke="#4455a6" stroke-opacity="0.6" stroke-width="1.1"/>
<circle cx="667.0" cy="528.0" r="5.6" fill="#4455a6" fill-opacity="0.6" stroke="#4455a6" stroke-opacity="0.6" stroke-width="1.1"/>
<circle cx="659.0" cy="527.0" r="5.6" fill="#4455a6" fill-opacity="0.6" stroke="#4455a6" stroke-opacity="0.6" stroke-width="1.1"/>
<line x1="823.6" y1="76" x2="823.6" y2="582.6" stroke="#000" stroke-width="3" stroke-dasharray="10.8 4.2" stroke-dashoffset="0"/>
<line x1="624" y1="526.9" x2="1352.4" y2="526.9" stroke="#000" stroke-width="3" stroke-dasharray="10.8 4.2" stroke-dashoffset="6.6"/>
<line x1="1264.8" y1="97.5" x2="1283.5" y2="98" stroke="#c8c8c8" stroke-width="1.5"/>
<rect x="1152.9" y="83.8" width="107.89999999999986" height="22.700000000000003" fill="#fff" fill-opacity="0.8" stroke="#808080" stroke-width="1.6"/>
<text x="1206.8" y="101.5" font-family="'DejaVu Sans', 'Liberation Sans', sans-serif" font-size="20.5" font-weight="bold" fill="#000" text-anchor="middle" textLength="101.9" lengthAdjust="spacingAndGlyphs">PLEKHS1</text>
<line x1="1281.8" y1="120.3" x2="1288" y2="116.5" stroke="#c8c8c8" stroke-width="1.5"/>
<rect x="1213.5" y="122.7" width="81.29999999999995" height="23.10000000000001" fill="#fff" fill-opacity="0.8" stroke="#808080" stroke-width="1.6"/>
<text x="1254.2" y="140.6" font-family="'DejaVu Sans', 'Liberation Sans', sans-serif" font-size="20.5" font-weight="bold" fill="#000" text-anchor="middle" textLength="75.3" lengthAdjust="spacingAndGlyphs">AZGP1</text>
<line x1="1278.2" y1="181.5" x2="1269" y2="188.5" stroke="#c8c8c8" stroke-width="1.5"/>
<rect x="1268.6" y="155.6" width="59.40000000000009" height="23.099999999999994" fill="#fff" fill-opacity="0.8" stroke="#808080" stroke-width="1.6"/>
<text x="1298.3" y="173.5" font-family="'DejaVu Sans', 'Liberation Sans', sans-serif" font-size="20.5" font-weight="bold" fill="#000" text-anchor="middle" textLength="53.4" lengthAdjust="spacingAndGlyphs">PIGR</text>
<line x1="1211.2" y1="191.7" x2="1240" y2="196.4" stroke="#c8c8c8" stroke-width="1.5"/>
<rect x="1079.5" y="170.6" width="127.90000000000009" height="23.400000000000006" fill="#fff" fill-opacity="0.8" stroke="#808080" stroke-width="1.6"/>
<text x="1143.5" y="188.7" font-family="'DejaVu Sans', 'Liberation Sans', sans-serif" font-size="20.5" font-weight="bold" fill="#000" text-anchor="middle" textLength="121.9" lengthAdjust="spacingAndGlyphs">LINC00284</text>
<rect x="1250.6" y="200.6" width="78.90000000000009" height="23.400000000000006" fill="#fff" fill-opacity="0.8" stroke="#808080" stroke-width="1.6"/>
<text x="1290.0" y="218.7" font-family="'DejaVu Sans', 'Liberation Sans', sans-serif" font-size="20.5" font-weight="bold" fill="#000" text-anchor="middle" textLength="72.9" lengthAdjust="spacingAndGlyphs">SPDEF</text>
<line x1="1207.4" y1="229.7" x2="1228.6" y2="219.8" stroke="#c8c8c8" stroke-width="1.5"/>
<rect x="1131.6" y="230.7" width="85.70000000000005" height="23.5" fill="#fff" fill-opacity="0.8" stroke="#808080" stroke-width="1.6"/>
<text x="1174.4" y="248.8" font-family="'DejaVu Sans', 'Liberation Sans', sans-serif" font-size="20.5" font-weight="bold" fill="#000" text-anchor="middle" textLength="79.7" lengthAdjust="spacingAndGlyphs">MUC5B</text>
<line x1="688.6" y1="515.5" x2="669.7" y2="520.6" stroke="#c8c8c8" stroke-width="1.5"/>
<rect x="692.5" y="492.2" width="85.70000000000005" height="24.19999999999999" fill="#fff" fill-opacity="0.8" stroke="#808080" stroke-width="1.6"/>
<text x="735.4" y="510.7" font-family="'DejaVu Sans', 'Liberation Sans', sans-serif" font-size="20.5" font-weight="bold" fill="#000" text-anchor="middle" textLength="79.7" lengthAdjust="spacingAndGlyphs">FRMD8</text>
<rect x="624" y="76" width="728.4000000000001" height="506.6" fill="none" stroke="#000" stroke-width="1.6"/>
<line x1="691.4" y1="582.6" x2="691.4" y2="588.6" stroke="#000" stroke-width="1.6"/>
<text transform="translate(691.4,615.8) scale(1,1.065)" x="0" y="0" font-family="'DejaVu Sans', 'Liberation Sans', sans-serif" font-size="26.5" fill="#000" text-anchor="middle">−0.1</text>
<line x1="823.6" y1="582.6" x2="823.6" y2="588.6" stroke="#000" stroke-width="1.6"/>
<text transform="translate(823.6,615.8) scale(1,1.065)" x="0" y="0" font-family="'DejaVu Sans', 'Liberation Sans', sans-serif" font-size="26.5" fill="#000" text-anchor="middle">0.0</text>
<line x1="955.8" y1="582.6" x2="955.8" y2="588.6" stroke="#000" stroke-width="1.6"/>
<text transform="translate(955.8,615.8) scale(1,1.065)" x="0" y="0" font-family="'DejaVu Sans', 'Liberation Sans', sans-serif" font-size="26.5" fill="#000" text-anchor="middle">0.1</text>
<line x1="1088.0" y1="582.6" x2="1088.0" y2="588.6" stroke="#000" stroke-width="1.6"/>
<text transform="translate(1088.0,615.8) scale(1,1.065)" x="0" y="0" font-family="'DejaVu Sans', 'Liberation Sans', sans-serif" font-size="26.5" fill="#000" text-anchor="middle">0.2</text>
<line x1="1220.2" y1="582.6" x2="1220.2" y2="588.6" stroke="#000" stroke-width="1.6"/>
<text transform="translate(1220.2,615.8) scale(1,1.065)" x="0" y="0" font-family="'DejaVu Sans', 'Liberation Sans', sans-serif" font-size="26.5" fill="#000" text-anchor="middle">0.3</text>
<line x1="1352.4" y1="582.6" x2="1352.4" y2="588.6" stroke="#000" stroke-width="1.6"/>
<text transform="translate(1352.4,615.8) scale(1,1.065)" x="0" y="0" font-family="'DejaVu Sans', 'Liberation Sans', sans-serif" font-size="26.5" fill="#000" text-anchor="middle">0.4</text>
<line x1="618" y1="559.5" x2="624" y2="559.5" stroke="#000" stroke-width="1.6"/>
<text transform="translate(611,569.8) scale(1,1.065)" x="0" y="0" font-family="'DejaVu Sans', 'Liberation Sans', sans-serif" font-size="26.5" fill="#000" text-anchor="end">0</text>
<line x1="618" y1="478.1" x2="624" y2="478.1" stroke="#000" stroke-width="1.6"/>
<text transform="translate(611,488.4) scale(1,1.065)" x="0" y="0" font-family="'DejaVu Sans', 'Liberation Sans', sans-serif" font-size="26.5" fill="#000" text-anchor="end">5</text>
<line x1="618" y1="396.7" x2="624" y2="396.7" stroke="#000" stroke-width="1.6"/>
<text transform="translate(611,407.0) scale(1,1.065)" x="0" y="0" font-family="'DejaVu Sans', 'Liberation Sans', sans-serif" font-size="26.5" fill="#000" text-anchor="end">10</text>
<line x1="618" y1="315.3" x2="624" y2="315.3" stroke="#000" stroke-width="1.6"/>
<text transform="translate(611,325.6) scale(1,1.065)" x="0" y="0" font-family="'DejaVu Sans', 'Liberation Sans', sans-serif" font-size="26.5" fill="#000" text-anchor="end">15</text>
<line x1="618" y1="233.9" x2="624" y2="233.9" stroke="#000" stroke-width="1.6"/>
<text transform="translate(611,244.2) scale(1,1.065)" x="0" y="0" font-family="'DejaVu Sans', 'Liberation Sans', sans-serif" font-size="26.5" fill="#000" text-anchor="end">20</text>
<line x1="618" y1="152.5" x2="624" y2="152.5" stroke="#000" stroke-width="1.6"/>
<text transform="translate(611,162.8) scale(1,1.065)" x="0" y="0" font-family="'DejaVu Sans', 'Liberation Sans', sans-serif" font-size="26.5" fill="#000" text-anchor="end">25</text>
<text x="976.6" y="779.2" font-family="'Liberation Sans', Arial, Helvetica, sans-serif" font-size="28" fill="#231f20" text-anchor="middle" textLength="551.3" lengthAdjust="spacingAndGlyphs">Arterial calcification DE analysis volcano plot</text>
<text x="976.6" y="1286.1" font-family="'Liberation Sans', Arial, Helvetica, sans-serif" font-size="28" fill="#231f20" text-anchor="middle" textLength="131.8" lengthAdjust="spacingAndGlyphs">Coefficient</text>
<text transform="translate(615,1017.3) rotate(-90)" x="0" y="0" font-family="'Liberation Sans', Arial, Helvetica, sans-serif" font-size="28" fill="#231f20" text-anchor="middle" textLength="308.6" lengthAdjust="spacingAndGlyphs">-Log10 Adjusted P-Value</text>
<polygon points="822.3,1168.7 841.7,1180.0 874.0,1193.0 906.4,1201.1 922.5,1202.7 955.4,1196.6 990.8,1182.4 1017.4,1168.3 1030.0,1163.0 1047.5,1172.7 1026.3,1182.4 990.8,1198.4 955.4,1209.9 922.5,1214.0 890.2,1209.2 857.8,1201.1 825.5,1188.2 798.0,1173.6" fill="#808080" stroke="#808080" stroke-width="1" stroke-linejoin="round"/>
<circle cx="821.9" cy="1172.2" r="5.2" fill="#808080" fill-opacity="0.5" stroke="#808080" stroke-opacity="0.5" stroke-width="1.1"/>
<circle cx="827.2" cy="1175.0" r="5.2" fill="#808080" fill-opacity="0.5" stroke="#808080" stroke-opacity="0.5" stroke-width="1.1"/>
<circle cx="830.3" cy="1177.6" r="5.2" fill="#808080" fill-opacity="0.5" stroke="#808080" stroke-opacity="0.5" stroke-width="1.1"/>
<circle cx="832.1" cy="1179.1" r="5.2" fill="#808080" fill-opacity="0.5" stroke="#808080" stroke-opacity="0.5" stroke-width="1.1"/>
<circle cx="836.0" cy="1181.2" r="5.2" fill="#808080" fill-opacity="0.5" stroke="#808080" stroke-opacity="0.5" stroke-width="1.1"/>
<circle cx="840.8" cy="1183.0" r="5.2" fill="#808080" fill-opacity="0.5" stroke="#808080" stroke-opacity="0.5" stroke-width="1.1"/>
<circle cx="845.7" cy="1186.8" r="5.2" fill="#808080" fill-opacity="0.5" stroke="#808080" stroke-opacity="0.5" stroke-width="1.1"/>
<circle cx="849.0" cy="1186.6" r="5.2" fill="#808080" fill-opacity="0.5" stroke="#808080" stroke-opacity="0.5" stroke-width="1.1"/>
<circle cx="854.4" cy="1190.6" r="5.2" fill="#808080" fill-opacity="0.5" stroke="#808080" stroke-opacity="0.5" stroke-width="1.1"/>
<circle cx="858.8" cy="1191.0" r="5.2" fill="#808080" fill-opacity="0.5" stroke="#808080" stroke-opacity="0.5" stroke-width="1.1"/>
<circle cx="864.7" cy="1192.5" r="5.2" fill="#808080" fill-opacity="0.5" stroke="#808080" stroke-opacity="0.5" stroke-width="1.1"/>
<circle cx="868.1" cy="1194.4" r="5.2" fill="#808080" fill-opacity="0.5" stroke="#808080" stroke-opacity="0.5" stroke-width="1.1"/>

<circle cx="874.1" cy="1197.9" r="5.2" fill="#808080" fill-opacity="0.5" stroke="#808080" stroke-opacity="0.5" stroke-width="1.1"/>
<circle cx="877.8" cy="1198.3" r="5.2" fill="#808080" fill-opacity="0.5" stroke="#808080" stroke-opacity="0.5" stroke-width="1.1"/>
<circle cx="883.8" cy="1199.3" r="5.2" fill="#808080" fill-opacity="0.5" stroke="#808080" stroke-opacity="0.5" stroke-width="1.1"/>
<circle cx="887.6" cy="1199.5" r="5.2" fill="#808080" fill-opacity="0.5" stroke="#808080" stroke-opacity="0.5" stroke-width="1.1"/>
<circle cx="889.6" cy="1200.4" r="5.2" fill="#808080" fill-opacity="0.5" stroke="#808080" stroke-opacity="0.5" stroke-width="1.1"/>
<circle cx="896.1" cy="1202.5" r="5.2" fill="#808080" fill-opacity="0.5" stroke="#808080" stroke-opacity="0.5" stroke-width="1.1"/>
<circle cx="898.5" cy="1203.5" r="5.2" fill="#808080" fill-opacity="0.5" stroke="#808080" stroke-opacity="0.5" stroke-width="1.1"/>
<circle cx="903.3" cy="1204.0" r="5.2" fill="#808080" fill-opacity="0.5" stroke="#808080" stroke-opacity="0.5" stroke-width="1.1"/>
<circle cx="909.2" cy="1205.9" r="5.2" fill="#808080" fill-opacity="0.5" stroke="#808080" stroke-opacity="0.5" stroke-width="1.1"/>
<circle cx="911.0" cy="1205.8" r="5.2" fill="#808080" fill-opacity="0.5" stroke="#808080" stroke-opacity="0.5" stroke-width="1.1"/>
<circle cx="916.1" cy="1207.0" r="5.2" fill="#808080" fill-opacity="0.5" stroke="#808080" stroke-opacity="0.5" stroke-width="1.1"/>
<circle cx="921.1" cy="1206.1" r="5.2" fill="#808080" fill-opacity="0.5" stroke="#808080" stroke-opacity="0.5" stroke-width="1.1"/>
<circle cx="927.1" cy="1205.0" r="5.2" fill="#808080" fill-opacity="0.5" stroke="#808080" stroke-opacity="0.5" stroke-width="1.1"/>
<circle cx="929.2" cy="1206.2" r="5.2" fill="#808080" fill-opacity="0.5" stroke="#808080" stroke-opacity="0.5" stroke-width="1.1"/>
<circle cx="932.1" cy="1205.0" r="5.2" fill="#808080" fill-opacity="0.5" stroke="#808080" stroke-opacity="0.5" stroke-width="1.1"/>
<circle cx="935.8" cy="1204.7" r="5.2" fill="#808080" fill-opacity="0.5" stroke="#808080" stroke-opacity="0.5" stroke-width="1.1"/>
<circle cx="942.9" cy="1203.2" r="5.2" fill="#808080" fill-opacity="0.5" stroke="#808080" stroke-opacity="0.5" stroke-width="1.1"/>
<circle cx="947.3" cy="1201.8" r="5.2" fill="#808080" fill-opacity="0.5" stroke="#808080" stroke-opacity="0.5" stroke-width="1.1"/>
<circle cx="950.8" cy="1201.8" r="5.2" fill="#808080" fill-opacity="0.5" stroke="#808080" stroke-opacity="0.5" stroke-width="1.1"/>
<circle cx="954.4" cy="1200.8" r="5.2" fill="#808080" fill-opacity="0.5" stroke="#808080" stroke-opacity="0.5" stroke-width="1.1"/>
<circle cx="960.6" cy="1200.0" r="5.2" fill="#808080" fill-opacity="0.5" stroke="#808080" stroke-opacity="0.5" stroke-width="1.1"/>
<circle cx="962.8" cy="1198.4" r="5.2" fill="#808080" fill-opacity="0.5" stroke="#808080" stroke-opacity="0.5" stroke-width="1.1"/>
<circle cx="965.2" cy="1197.5" r="5.2" fill="#808080" fill-opacity="0.5" stroke="#808080" stroke-opacity="0.5" stroke-width="1.1"/>
<circle cx="971.7" cy="1195.7" r="5.2" fill="#808080" fill-opacity="0.5" stroke="#808080" stroke-opacity="0.5" stroke-width="1.1"/>
<circle cx="975.7" cy="1192.3" r="5.2" fill="#808080" fill-opacity="0.5" stroke="#808080" stroke-opacity="0.5" stroke-width="1.1"/>
<circle cx="978.2" cy="1192.2" r="5.2" fill="#808080" fill-opacity="0.5" stroke="#808080" stroke-opacity="0.5" stroke-width="1.1"/>
<circle cx="980.6" cy="1190.8" r="5.2" fill="#808080" fill-opacity="0.5" stroke="#808080" stroke-opacity="0.5" stroke-width="1.1"/>
<circle cx="984.8" cy="1188.2" r="5.2" fill="#808080" fill-opacity="0.5" stroke="#808080" stroke-opacity="0.5" stroke-width="1.1"/>
<circle cx="988.8" cy="1188.2" r="5.2" fill="#808080" fill-opacity="0.5" stroke="#808080" stroke-opacity="0.5" stroke-width="1.1"/>
<circle cx="992.9" cy="1185.2" r="5.2" fill="#808080" fill-opacity="0.5" stroke="#808080" stroke-opacity="0.5" stroke-width="1.1"/>
<circle cx="998.4" cy="1183.9" r="5.2" fill="#808080" fill-opacity="0.5" stroke="#808080" stroke-opacity="0.5" stroke-width="1.1"/>
<circle cx="1000.5" cy="1181.7" r="5.2" fill="#808080" fill-opacity="0.5" stroke="#808080" stroke-opacity="0.5" stroke-width="1.1"/>
<circle cx="1006.6" cy="1179.6" r="5.2" fill="#808080" fill-opacity="0.5" stroke="#808080" stroke-opacity="0.5" stroke-width="1.1"/>
<circle cx="1011.4" cy="1177.0" r="5.2" fill="#808080" fill-opacity="0.5" stroke="#808080" stroke-opacity="0.5" stroke-width="1.1"/>
<circle cx="1012.7" cy="1175.2" r="5.2" fill="#808080" fill-opacity="0.5" stroke="#808080" stroke-opacity="0.5" stroke-width="1.1"/>
<circle cx="1017.3" cy="1173.9" r="5.2" fill="#808080" fill-opacity="0.5" stroke="#808080" stroke-opacity="0.5" stroke-width="1.1"/>
<circle cx="1022.7" cy="1169.6" r="5.2" fill="#808080" fill-opacity="0.5" stroke="#808080" stroke-opacity="0.5" stroke-width="1.1"/>

<circle cx="1028.3" cy="1168.0" r="5.2" fill="#808080" fill-opacity="0.5" stroke="#808080" stroke-opacity="0.5" stroke-width="1.1"/>
<circle cx="869.2" cy="1187.3" r="5.2" fill="#808080" fill-opacity="0.3" stroke="#808080" stroke-opacity="0.3" stroke-width="1.1"/>
<polygon points="710.7,1075.8 718.0,1083.1 728.5,1091.1 741.4,1097.6 751.1,1105.7 757.6,1118.6 770.5,1126.7 777.0,1136.4 793.2,1146.1 806.1,1154.2 814.2,1160.7 823.9,1167.9 822.3,1172.8 802.9,1173.6 796.4,1170.4 783.5,1160.7 770.5,1151.0 757.6,1141.3 749.5,1134.8 741.4,1126.7 728.5,1117.0 722.0,1107.3 714.0,1099.2 710.7,1087.9" fill="#4455a6" stroke="#4455a6" stroke-width="1" stroke-linejoin="round"/>
<circle cx="709.7" cy="1080.1" r="5.2" fill="#4455a6" fill-opacity="0.5" stroke="#4455a6" stroke-opacity="0.5" stroke-width="1.1"/>
<circle cx="711.4" cy="1083.4" r="5.2" fill="#4455a6" fill-opacity="0.5" stroke="#4455a6" stroke-opacity="0.5" stroke-width="1.1"/>
<circle cx="715.6" cy="1086.3" r="5.2" fill="#4455a6" fill-opacity="0.5" stroke="#4455a6" stroke-opacity="0.5" stroke-width="1.1"/>
<circle cx="722.8" cy="1090.6" r="5.2" fill="#4455a6" fill-opacity="0.5" stroke="#4455a6" stroke-opacity="0.5" stroke-width="1.1"/>
<circle cx="724.3" cy="1093.3" r="5.2" fill="#4455a6" fill-opacity="0.5" stroke="#4455a6" stroke-opacity="0.5" stroke-width="1.1"/>
<circle cx="727.0" cy="1094.5" r="5.2" fill="#4455a6" fill-opacity="0.5" stroke="#4455a6" stroke-opacity="0.5" stroke-width="1.1"/>
<circle cx="734.1" cy="1098.3" r="5.2" fill="#4455a6" fill-opacity="0.5" stroke="#4455a6" stroke-opacity="0.5" stroke-width="1.1"/>
<circle cx="738.8" cy="1099.9" r="5.2" fill="#4455a6" fill-opacity="0.5" stroke="#4455a6" stroke-opacity="0.5" stroke-width="1.1"/>

<circle cx="743.1" cy="1105.5" r="5.2" fill="#4455a6" fill-opacity="0.5" stroke="#4455a6" stroke-opacity="0.5" stroke-width="1.1"/>
<circle cx="746.8" cy="1108.2" r="5.2" fill="#4455a6" fill-opacity="0.5" stroke="#4455a6" stroke-opacity="0.5" stroke-width="1.1"/>

<circle cx="750.3" cy="1112.0" r="5.2" fill="#4455a6" fill-opacity="0.5" stroke="#4455a6" stroke-opacity="0.5" stroke-width="1.1"/>
<circle cx="752.8" cy="1119.3" r="5.2" fill="#4455a6" fill-opacity="0.5" stroke="#4455a6" stroke-opacity="0.5" stroke-width="1.1"/>
<circle cx="757.8" cy="1122.3" r="5.2" fill="#4455a6" fill-opacity="0.5" stroke="#4455a6" stroke-opacity="0.5" stroke-width="1.1"/>
<circle cx="761.3" cy="1124.9" r="5.2" fill="#4455a6" fill-opacity="0.5" stroke="#4455a6" stroke-opacity="0.5" stroke-width="1.1"/>
<circle cx="764.9" cy="1128.8" r="5.2" fill="#4455a6" fill-opacity="0.5" stroke="#4455a6" stroke-opacity="0.5" stroke-width="1.1"/>
<circle cx="767.0" cy="1130.4" r="5.2" fill="#4455a6" fill-opacity="0.5" stroke="#4455a6" stroke-opacity="0.5" stroke-width="1.1"/>
<circle cx="774.1" cy="1137.5" r="5.2" fill="#4455a6" fill-opacity="0.5" stroke="#4455a6" stroke-opacity="0.5" stroke-width="1.1"/>
<circle cx="776.5" cy="1140.8" r="5.2" fill="#4455a6" fill-opacity="0.5" stroke="#4455a6" stroke-opacity="0.5" stroke-width="1.1"/>
<circle cx="779.2" cy="1142.2" r="5.2" fill="#4455a6" fill-opacity="0.5" stroke="#4455a6" stroke-opacity="0.5" stroke-width="1.1"/>
<circle cx="787.2" cy="1146.1" r="5.2" fill="#4455a6" fill-opacity="0.5" stroke="#4455a6" stroke-opacity="0.5" stroke-width="1.1"/>
<circle cx="790.0" cy="1147.8" r="5.2" fill="#4455a6" fill-opacity="0.5" stroke="#4455a6" stroke-opacity="0.5" stroke-width="1.1"/>
<circle cx="793.1" cy="1151.9" r="5.2" fill="#4455a6" fill-opacity="0.5" stroke="#4455a6" stroke-opacity="0.5" stroke-width="1.1"/>
<circle cx="796.8" cy="1151.8" r="5.2" fill="#4455a6" fill-opacity="0.5" stroke="#4455a6" stroke-opacity="0.5" stroke-width="1.1"/>
<circle cx="800.0" cy="1155.2" r="5.2" fill="#4455a6" fill-opacity="0.5" stroke="#4455a6" stroke-opacity="0.5" stroke-width="1.1"/>
<circle cx="804.3" cy="1156.6" r="5.2" fill="#4455a6" fill-opacity="0.5" stroke="#4455a6" stroke-opacity="0.5" stroke-width="1.1"/>
<circle cx="809.0" cy="1163.0" r="5.2" fill="#4455a6" fill-opacity="0.5" stroke="#4455a6" stroke-opacity="0.5" stroke-width="1.1"/>
<circle cx="813.3" cy="1164.8" r="5.2" fill="#4455a6" fill-opacity="0.5" stroke="#4455a6" stroke-opacity="0.5" stroke-width="1.1"/>
<circle cx="817.7" cy="1167.1" r="5.2" fill="#4455a6" fill-opacity="0.5" stroke="#4455a6" stroke-opacity="0.5" stroke-width="1.1"/>
<circle cx="820.6" cy="1169.5" r="5.2" fill="#4455a6" fill-opacity="0.5" stroke="#4455a6" stroke-opacity="0.5" stroke-width="1.1"/>
<circle cx="716.6" cy="1089.9" r="5.2" fill="#4455a6" fill-opacity="0.5" stroke="#4455a6" stroke-opacity="0.5" stroke-width="1.1"/>
<circle cx="716.4" cy="1092.7" r="5.2" fill="#4455a6" fill-opacity="0.5" stroke="#4455a6" stroke-opacity="0.5" stroke-width="1.1"/>
<circle cx="718.7" cy="1099.4" r="5.2" fill="#4455a6" fill-opacity="0.5" stroke="#4455a6" stroke-opacity="0.5" stroke-width="1.1"/>
<circle cx="722.8" cy="1100.7" r="5.2" fill="#4455a6" fill-opacity="0.5" stroke="#4455a6" stroke-opacity="0.5" stroke-width="1.1"/>
<circle cx="727.9" cy="1110.4" r="5.2" fill="#4455a6" fill-opacity="0.5" stroke="#4455a6" stroke-opacity="0.5" stroke-width="1.1"/>
<circle cx="731.8" cy="1112.7" r="5.2" fill="#4455a6" fill-opacity="0.5" stroke="#4455a6" stroke-opacity="0.5" stroke-width="1.1"/>

<circle cx="734.1" cy="1116.6" r="5.2" fill="#4455a6" fill-opacity="0.5" stroke="#4455a6" stroke-opacity="0.5" stroke-width="1.1"/>
<circle cx="739.7" cy="1120.1" r="5.2" fill="#4455a6" fill-opacity="0.5" stroke="#4455a6" stroke-opacity="0.5" stroke-width="1.1"/>
<circle cx="742.5" cy="1123.7" r="5.2" fill="#4455a6" fill-opacity="0.5" stroke="#4455a6" stroke-opacity="0.5" stroke-width="1.1"/>
<circle cx="746.3" cy="1124.7" r="5.2" fill="#4455a6" fill-opacity="0.5" stroke="#4455a6" stroke-opacity="0.5" stroke-width="1.1"/>
<circle cx="750.6" cy="1130.3" r="5.2" fill="#4455a6" fill-opacity="0.5" stroke="#4455a6" stroke-opacity="0.5" stroke-width="1.1"/>
<circle cx="754.4" cy="1132.1" r="5.2" fill="#4455a6" fill-opacity="0.5" stroke="#4455a6" stroke-opacity="0.5" stroke-width="1.1"/>
<circle cx="757.7" cy="1137.7" r="5.2" fill="#4455a6" fill-opacity="0.5" stroke="#4455a6" stroke-opacity="0.5" stroke-width="1.1"/>
<circle cx="762.4" cy="1140.3" r="5.2" fill="#4455a6" fill-opacity="0.5" stroke="#4455a6" stroke-opacity="0.5" stroke-width="1.1"/>
<circle cx="764.2" cy="1142.1" r="5.2" fill="#4455a6" fill-opacity="0.5" stroke="#4455a6" stroke-opacity="0.5" stroke-width="1.1"/>
<circle cx="767.7" cy="1144.3" r="5.2" fill="#4455a6" fill-opacity="0.5" stroke="#4455a6" stroke-opacity="0.5" stroke-width="1.1"/>
<circle cx="770.2" cy="1145.3" r="5.2" fill="#4455a6" fill-opacity="0.5" stroke="#4455a6" stroke-opacity="0.5" stroke-width="1.1"/>
<circle cx="773.6" cy="1147.5" r="5.2" fill="#4455a6" fill-opacity="0.5" stroke="#4455a6" stroke-opacity="0.5" stroke-width="1.1"/>
<circle cx="776.6" cy="1149.7" r="5.2" fill="#4455a6" fill-opacity="0.5" stroke="#4455a6" stroke-opacity="0.5" stroke-width="1.1"/>
<circle cx="782.0" cy="1154.6" r="5.2" fill="#4455a6" fill-opacity="0.5" stroke="#4455a6" stroke-opacity="0.5" stroke-width="1.1"/>
<circle cx="784.6" cy="1157.2" r="5.2" fill="#4455a6" fill-opacity="0.5" stroke="#4455a6" stroke-opacity="0.5" stroke-width="1.1"/>
<circle cx="788.2" cy="1159.4" r="5.2" fill="#4455a6" fill-opacity="0.5" stroke="#4455a6" stroke-opacity="0.5" stroke-width="1.1"/>
<circle cx="790.5" cy="1159.6" r="5.2" fill="#4455a6" fill-opacity="0.5" stroke="#4455a6" stroke-opacity="0.5" stroke-width="1.1"/>
<circle cx="793.5" cy="1163.5" r="5.2" fill="#4455a6" fill-opacity="0.5" stroke="#4455a6" stroke-opacity="0.5" stroke-width="1.1"/>
<circle cx="798.2" cy="1167.1" r="5.2" fill="#4455a6" fill-opacity="0.5" stroke="#4455a6" stroke-opacity="0.5" stroke-width="1.1"/>
<circle cx="802.2" cy="1169.6" r="5.2" fill="#4455a6" fill-opacity="0.5" stroke="#4455a6" stroke-opacity="0.5" stroke-width="1.1"/>
<circle cx="806.8" cy="1170.0" r="5.2" fill="#4455a6" fill-opacity="0.5" stroke="#4455a6" stroke-opacity="0.5" stroke-width="1.1"/>
<circle cx="807.8" cy="1168.3" r="5.2" fill="#4455a6" fill-opacity="0.5" stroke="#4455a6" stroke-opacity="0.5" stroke-width="1.1"/>
<circle cx="813.2" cy="1168.1" r="5.2" fill="#4455a6" fill-opacity="0.5" stroke="#4455a6" stroke-opacity="0.5" stroke-width="1.1"/>

<circle cx="702.3" cy="1061.2" r="5.2" fill="#4455a6" fill-opacity="0.5" stroke="#4455a6" stroke-opacity="0.5" stroke-width="1.1"/>
<circle cx="701.5" cy="1071.4" r="5.2" fill="#4455a6" fill-opacity="0.5" stroke="#4455a6" stroke-opacity="0.5" stroke-width="1.1"/>
<circle cx="710.4" cy="1075.8" r="5.2" fill="#4455a6" fill-opacity="0.5" stroke="#4455a6" stroke-opacity="0.5" stroke-width="1.1"/>
<circle cx="747.1" cy="1105.7" r="5.2" fill="#4455a6" fill-opacity="0.5" stroke="#4455a6" stroke-opacity="0.5" stroke-width="1.1"/>

<circle cx="713.0" cy="1092.0" r="5.2" fill="#4455a6" fill-opacity="0.5" stroke="#4455a6" stroke-opacity="0.5" stroke-width="1.1"/>
<polygon points="1026.6,1161.6 1046.2,1148.9 1060.0,1137.4 1075.0,1122.4 1087.8,1108.5 1103.9,1101.6 1115.5,1091.2 1127.0,1084.3 1131.6,1076.2 1138.6,1068.1 1145.5,1061.2 1150.0,1068.1 1145.5,1078.5 1142.0,1085.4 1130.5,1099.3 1121.2,1110.8 1109.7,1124.7 1092.4,1139.7 1069.3,1157.0 1046.2,1172.0 1026.6,1172.0" fill="#e3242b" stroke="#e3242b" stroke-width="1" stroke-linejoin="round"/>
<circle cx="1030.6" cy="1164.0" r="5.2" fill="#e3242b" fill-opacity="0.5" stroke="#e3242b" stroke-opacity="0.5" stroke-width="1.1"/>
<circle cx="1036.3" cy="1160.0" r="5.2" fill="#e3242b" fill-opacity="0.5" stroke="#e3242b" stroke-opacity="0.5" stroke-width="1.1"/>
<circle cx="1038.7" cy="1158.8" r="5.2" fill="#e3242b" fill-opacity="0.5" stroke="#e3242b" stroke-opacity="0.5" stroke-width="1.1"/>
<circle cx="1041.3" cy="1156.9" r="5.2" fill="#e3242b" fill-opacity="0.5" stroke="#e3242b" stroke-opacity="0.5" stroke-width="1.1"/>
<circle cx="1047.3" cy="1153.8" r="5.2" fill="#e3242b" fill-opacity="0.5" stroke="#e3242b" stroke-opacity="0.5" stroke-width="1.1"/>
<circle cx="1048.8" cy="1151.4" r="5.2" fill="#e3242b" fill-opacity="0.5" stroke="#e3242b" stroke-opacity="0.5" stroke-width="1.1"/>
<circle cx="1053.0" cy="1149.4" r="5.2" fill="#e3242b" fill-opacity="0.5" stroke="#e3242b" stroke-opacity="0.5" stroke-width="1.1"/>
<circle cx="1057.4" cy="1143.4" r="5.2" fill="#e3242b" fill-opacity="0.5" stroke="#e3242b" stroke-opacity="0.5" stroke-width="1.1"/>
<circle cx="1063.2" cy="1141.4" r="5.2" fill="#e3242b" fill-opacity="0.5" stroke="#e3242b" stroke-opacity="0.5" stroke-width="1.1"/>
<circle cx="1065.0" cy="1138.5" r="5.2" fill="#e3242b" fill-opacity="0.5" stroke="#e3242b" stroke-opacity="0.5" stroke-width="1.1"/>
<circle cx="1065.5" cy="1136.0" r="5.2" fill="#e3242b" fill-opacity="0.5" stroke="#e3242b" stroke-opacity="0.5" stroke-width="1.1"/>
<circle cx="1069.7" cy="1131.9" r="5.2" fill="#e3242b" fill-opacity="0.5" stroke="#e3242b" stroke-opacity="0.5" stroke-width="1.1"/>
<circle cx="1072.0" cy="1130.3" r="5.2" fill="#e3242b" fill-opacity="0.5" stroke="#e3242b" stroke-opacity="0.5" stroke-width="1.1"/>
<circle cx="1074.9" cy="1128.1" r="5.2" fill="#e3242b" fill-opacity="0.5" stroke="#e3242b" stroke-opacity="0.5" stroke-width="1.1"/>
<circle cx="1080.0" cy="1124.1" r="5.2" fill="#e3242b" fill-opacity="0.5" stroke="#e3242b" stroke-opacity="0.5" stroke-width="1.1"/>
<circle cx="1083.1" cy="1120.1" r="5.2" fill="#e3242b" fill-opacity="0.5" stroke="#e3242b" stroke-opacity="0.5" stroke-width="1.1"/>
<circle cx="1086.2" cy="1116.7" r="5.2" fill="#e3242b" fill-opacity="0.5" stroke="#e3242b" stroke-opacity="0.5" stroke-width="1.1"/>
<circle cx="1088.6" cy="1112.8" r="5.2" fill="#e3242b" fill-opacity="0.5" stroke="#e3242b" stroke-opacity="0.5" stroke-width="1.1"/>
<circle cx="1093.9" cy="1111.5" r="5.2" fill="#e3242b" fill-opacity="0.5" stroke="#e3242b" stroke-opacity="0.5" stroke-width="1.1"/>
<circle cx="1097.0" cy="1109.5" r="5.2" fill="#e3242b" fill-opacity="0.5" stroke="#e3242b" stroke-opacity="0.5" stroke-width="1.1"/>
<circle cx="1098.5" cy="1107.6" r="5.2" fill="#e3242b" fill-opacity="0.5" stroke="#e3242b" stroke-opacity="0.5" stroke-width="1.1"/>
<circle cx="1102.2" cy="1105.6" r="5.2" fill="#e3242b" fill-opacity="0.5" stroke="#e3242b" stroke-opacity="0.5" stroke-width="1.1"/>
<circle cx="1109.4" cy="1101.8" r="5.2" fill="#e3242b" fill-opacity="0.5" stroke="#e3242b" stroke-opacity="0.5" stroke-width="1.1"/>
<circle cx="1113.6" cy="1098.0" r="5.2" fill="#e3242b" fill-opacity="0.5" stroke="#e3242b" stroke-opacity="0.5" stroke-width="1.1"/>
<circle cx="1118.6" cy="1095.0" r="5.2" fill="#e3242b" fill-opacity="0.5" stroke="#e3242b" stroke-opacity="0.5" stroke-width="1.1"/>

<circle cx="1124.9" cy="1090.2" r="5.2" fill="#e3242b" fill-opacity="0.5" stroke="#e3242b" stroke-opacity="0.5" stroke-width="1.1"/>
<circle cx="1128.9" cy="1087.6" r="5.2" fill="#e3242b" fill-opacity="0.5" stroke="#e3242b" stroke-opacity="0.5" stroke-width="1.1"/>
<circle cx="1130.9" cy="1086.1" r="5.2" fill="#e3242b" fill-opacity="0.5" stroke="#e3242b" stroke-opacity="0.5" stroke-width="1.1"/>
<circle cx="1134.1" cy="1078.8" r="5.2" fill="#e3242b" fill-opacity="0.5" stroke="#e3242b" stroke-opacity="0.5" stroke-width="1.1"/>

<circle cx="1142.0" cy="1071.3" r="5.2" fill="#e3242b" fill-opacity="0.5" stroke="#e3242b" stroke-opacity="0.5" stroke-width="1.1"/>

<circle cx="1144.5" cy="1066.4" r="5.2" fill="#e3242b" fill-opacity="0.5" stroke="#e3242b" stroke-opacity="0.5" stroke-width="1.1"/>
<circle cx="1030.5" cy="1168.7" r="5.2" fill="#e3242b" fill-opacity="0.5" stroke="#e3242b" stroke-opacity="0.5" stroke-width="1.1"/>
<circle cx="1034.2" cy="1168.1" r="5.2" fill="#e3242b" fill-opacity="0.5" stroke="#e3242b" stroke-opacity="0.5" stroke-width="1.1"/>
<circle cx="1037.3" cy="1167.4" r="5.2" fill="#e3242b" fill-opacity="0.5" stroke="#e3242b" stroke-opacity="0.5" stroke-width="1.1"/>
<circle cx="1041.9" cy="1167.6" r="5.2" fill="#e3242b" fill-opacity="0.5" stroke="#e3242b" stroke-opacity="0.5" stroke-width="1.1"/>
<circle cx="1044.6" cy="1168.5" r="5.2" fill="#e3242b" fill-opacity="0.5" stroke="#e3242b" stroke-opacity="0.5" stroke-width="1.1"/>
<circle cx="1049.0" cy="1166.0" r="5.2" fill="#e3242b" fill-opacity="0.5" stroke="#e3242b" stroke-opacity="0.5" stroke-width="1.1"/>
<circle cx="1055.1" cy="1160.6" r="5.2" fill="#e3242b" fill-opacity="0.5" stroke="#e3242b" stroke-opacity="0.5" stroke-width="1.1"/>

<circle cx="1060.4" cy="1158.3" r="5.2" fill="#e3242b" fill-opacity="0.5" stroke="#e3242b" stroke-opacity="0.5" stroke-width="1.1"/>
<circle cx="1066.4" cy="1153.7" r="5.2" fill="#e3242b" fill-opacity="0.5" stroke="#e3242b" stroke-opacity="0.5" stroke-width="1.1"/>

<circle cx="1071.2" cy="1151.2" r="5.2" fill="#e3242b" fill-opacity="0.5" stroke="#e3242b" stroke-opacity="0.5" stroke-width="1.1"/>
<circle cx="1076.3" cy="1147.2" r="5.2" fill="#e3242b" fill-opacity="0.5" stroke="#e3242b" stroke-opacity="0.5" stroke-width="1.1"/>
<circle cx="1078.4" cy="1146.4" r="5.2" fill="#e3242b" fill-opacity="0.5" stroke="#e3242b" stroke-opacity="0.5" stroke-width="1.1"/>
<circle cx="1080.3" cy="1143.5" r="5.2" fill="#e3242b" fill-opacity="0.5" stroke="#e3242b" stroke-opacity="0.5" stroke-width="1.1"/>
<circle cx="1084.0" cy="1140.6" r="5.2" fill="#e3242b" fill-opacity="0.5" stroke="#e3242b" stroke-opacity="0.5" stroke-width="1.1"/>
<circle cx="1088.0" cy="1138.1" r="5.2" fill="#e3242b" fill-opacity="0.5" stroke="#e3242b" stroke-opacity="0.5" stroke-width="1.1"/>
<circle cx="1093.1" cy="1133.8" r="5.2" fill="#e3242b" fill-opacity="0.5" stroke="#e3242b" stroke-opacity="0.5" stroke-width="1.1"/>
<circle cx="1094.6" cy="1131.3" r="5.2" fill="#e3242b" fill-opacity="0.5" stroke="#e3242b" stroke-opacity="0.5" stroke-width="1.1"/>
<circle cx="1097.8" cy="1130.7" r="5.2" fill="#e3242b" fill-opacity="0.5" stroke="#e3242b" stroke-opacity="0.5" stroke-width="1.1"/>
<circle cx="1102.8" cy="1124.4" r="5.2" fill="#e3242b" fill-opacity="0.5" stroke="#e3242b" stroke-opacity="0.5" stroke-width="1.1"/>
<circle cx="1104.9" cy="1124.5" r="5.2" fill="#e3242b" fill-opacity="0.5" stroke="#e3242b" stroke-opacity="0.5" stroke-width="1.1"/>
<circle cx="1107.9" cy="1118.9" r="5.2" fill="#e3242b" fill-opacity="0.5" stroke="#e3242b" stroke-opacity="0.5" stroke-width="1.1"/>
<circle cx="1109.2" cy="1117.3" r="5.2" fill="#e3242b" fill-opacity="0.5" stroke="#e3242b" stroke-opacity="0.5" stroke-width="1.1"/>
<circle cx="1114.7" cy="1112.0" r="5.2" fill="#e3242b" fill-opacity="0.5" stroke="#e3242b" stroke-opacity="0.5" stroke-width="1.1"/>
<circle cx="1117.1" cy="1110.8" r="5.2" fill="#e3242b" fill-opacity="0.5" stroke="#e3242b" stroke-opacity="0.5" stroke-width="1.1"/>
<circle cx="1117.3" cy="1107.4" r="5.2" fill="#e3242b" fill-opacity="0.5" stroke="#e3242b" stroke-opacity="0.5" stroke-width="1.1"/>
<circle cx="1121.5" cy="1103.2" r="5.2" fill="#e3242b" fill-opacity="0.5" stroke="#e3242b" stroke-opacity="0.5" stroke-width="1.1"/>
<circle cx="1124.5" cy="1099.1" r="5.2" fill="#e3242b" fill-opacity="0.5" stroke="#e3242b" stroke-opacity="0.5" stroke-width="1.1"/>
<circle cx="1129.5" cy="1095.0" r="5.2" fill="#e3242b" fill-opacity="0.5" stroke="#e3242b" stroke-opacity="0.5" stroke-width="1.1"/>
<circle cx="1130.4" cy="1092.3" r="5.2" fill="#e3242b" fill-opacity="0.5" stroke="#e3242b" stroke-opacity="0.5" stroke-width="1.1"/>
<circle cx="1133.8" cy="1089.9" r="5.2" fill="#e3242b" fill-opacity="0.5" stroke="#e3242b" stroke-opacity="0.5" stroke-width="1.1"/>
<circle cx="1137.0" cy="1083.8" r="5.2" fill="#e3242b" fill-opacity="0.5" stroke="#e3242b" stroke-opacity="0.5" stroke-width="1.1"/>
<circle cx="1141.0" cy="1079.6" r="5.2" fill="#e3242b" fill-opacity="0.5" stroke="#e3242b" stroke-opacity="0.5" stroke-width="1.1"/>
<circle cx="1144.5" cy="1072.4" r="5.2" fill="#e3242b" fill-opacity="0.5" stroke="#e3242b" stroke-opacity="0.5" stroke-width="1.1"/>

<circle cx="1121.9" cy="1072.6" r="5.2" fill="#e3242b" fill-opacity="0.5" stroke="#e3242b" stroke-opacity="0.5" stroke-width="1.1"/>
<circle cx="1116.6" cy="1080.6" r="5.2" fill="#e3242b" fill-opacity="0.5" stroke="#e3242b" stroke-opacity="0.5" stroke-width="1.1"/>
<circle cx="1100.7" cy="1098.3" r="5.2" fill="#e3242b" fill-opacity="0.5" stroke="#e3242b" stroke-opacity="0.5" stroke-width="1.1"/>
<circle cx="1090.0" cy="1108.0" r="5.2" fill="#e3242b" fill-opacity="0.5" stroke="#e3242b" stroke-opacity="0.5" stroke-width="1.1"/>
<circle cx="1080.3" cy="1119.6" r="5.2" fill="#e3242b" fill-opacity="0.5" stroke="#e3242b" stroke-opacity="0.5" stroke-width="1.1"/>

<circle cx="1070.5" cy="1128.4" r="5.2" fill="#e3242b" fill-opacity="0.5" stroke="#e3242b" stroke-opacity="0.5" stroke-width="1.1"/>
<circle cx="1033.4" cy="1157.6" r="5.2" fill="#e3242b" fill-opacity="0.5" stroke="#e3242b" stroke-opacity="0.5" stroke-width="1.1"/>
<circle cx="1137.9" cy="1033.7" r="5.2" fill="#e3242b" fill-opacity="0.5" stroke="#e3242b" stroke-opacity="0.5" stroke-width="1.1"/>
<circle cx="1155.6" cy="1033.7" r="5.2" fill="#e3242b" fill-opacity="0.5" stroke="#e3242b" stroke-opacity="0.5" stroke-width="1.1"/>
<circle cx="1162.7" cy="1023.0" r="5.2" fill="#e3242b" fill-opacity="0.5" stroke="#e3242b" stroke-opacity="0.5" stroke-width="1.1"/>
<circle cx="1182.1" cy="1028.0" r="5.2" fill="#e3242b" fill-opacity="0.5" stroke="#e3242b" stroke-opacity="0.5" stroke-width="1.1"/>
<circle cx="1171.5" cy="1045.2" r="5.2" fill="#e3242b" fill-opacity="0.5" stroke="#e3242b" stroke-opacity="0.5" stroke-width="1.1"/>
<circle cx="1166.2" cy="1044.3" r="5.2" fill="#e3242b" fill-opacity="0.5" stroke="#e3242b" stroke-opacity="0.5" stroke-width="1.1"/>
<circle cx="1192.8" cy="1004.4" r="5.2" fill="#e3242b" fill-opacity="0.5" stroke="#e3242b" stroke-opacity="0.5" stroke-width="1.1"/>
<circle cx="1145.0" cy="1056.7" r="5.2" fill="#e3242b" fill-opacity="0.5" stroke="#e3242b" stroke-opacity="0.5" stroke-width="1.1"/>
<circle cx="1157.3" cy="1063.8" r="5.2" fill="#e3242b" fill-opacity="0.5" stroke="#e3242b" stroke-opacity="0.5" stroke-width="1.1"/>
<circle cx="1141.4" cy="1087.7" r="5.2" fill="#e3242b" fill-opacity="0.5" stroke="#e3242b" stroke-opacity="0.5" stroke-width="1.1"/>







<circle cx="1061.2" cy="1139.7" r="5.2" fill="#e3242b" fill-opacity="0.5" stroke="#e3242b" stroke-opacity="0.5" stroke-width="1.1"/>
<circle cx="1035.8" cy="1157.0" r="5.2" fill="#e3242b" fill-opacity="0.5" stroke="#e3242b" stroke-opacity="0.5" stroke-width="1.1"/>
<circle cx="1030.0" cy="1158.2" r="5.2" fill="#e3242b" fill-opacity="0.5" stroke="#e3242b" stroke-opacity="0.5" stroke-width="1.1"/>

<circle cx="1132.8" cy="1098.1" r="5.2" fill="#e3242b" fill-opacity="0.5" stroke="#e3242b" stroke-opacity="0.5" stroke-width="1.1"/>

<circle cx="1159.4" cy="1063.5" r="5.2" fill="#e3242b" fill-opacity="0.5" stroke="#e3242b" stroke-opacity="0.5" stroke-width="1.1"/>
<circle cx="1161.7" cy="1057.7" r="5.2" fill="#e3242b" fill-opacity="0.5" stroke="#e3242b" stroke-opacity="0.5" stroke-width="1.1"/>
<circle cx="1150.0" cy="1062.0" r="5.2" fill="#e3242b" fill-opacity="0.5" stroke="#e3242b" stroke-opacity="0.5" stroke-width="1.1"/>
<circle cx="1153.0" cy="1052.0" r="5.2" fill="#e3242b" fill-opacity="0.5" stroke="#e3242b" stroke-opacity="0.5" stroke-width="1.1"/>
<circle cx="1147.0" cy="1047.0" r="5.2" fill="#e3242b" fill-opacity="0.5" stroke="#e3242b" stroke-opacity="0.5" stroke-width="1.1"/>
<circle cx="1179.8" cy="979.2" r="5.2" fill="#e3242b" fill-opacity="0.5" stroke="#e3242b" stroke-opacity="0.5" stroke-width="1.1"/>
<circle cx="1188.5" cy="996.3" r="5.2" fill="#e3242b" fill-opacity="0.5" stroke="#e3242b" stroke-opacity="0.5" stroke-width="1.1"/>



<circle cx="1163.2" cy="1041.6" r="5.2" fill="#e3242b" fill-opacity="0.5" stroke="#e3242b" stroke-opacity="0.5" stroke-width="1.1"/>
<circle cx="1259.9" cy="812.5" r="5.2" fill="#e3242b" fill-opacity="0.5" stroke="#e3242b" stroke-opacity="0.5" stroke-width="1.1"/>
<circle cx="1238.5" cy="897.5" r="5.2" fill="#e3242b" fill-opacity="0.5" stroke="#e3242b" stroke-opacity="0.5" stroke-width="1.1"/>
<line x1="923.6" y1="793.2" x2="923.6" y2="1228.4" stroke="#000" stroke-width="3" stroke-dasharray="10.8 4.2" stroke-dashoffset="0"/>
<line x1="673.9" y1="1169.0" x2="1299.2" y2="1169.0" stroke="#000" stroke-width="3" stroke-dasharray="10.8 4.2" stroke-dashoffset="4.7"/>
<line x1="1190" y1="810" x2="1255" y2="812" stroke="#c8c8c8" stroke-width="1.5"/>
<rect x="1106.6" y="800.4" width="154.70000000000005" height="19.800000000000068" fill="#fff" fill-opacity="0.8" stroke="#808080" stroke-width="1.6"/>
<text x="1183.9" y="815.4" font-family="'DejaVu Sans', 'Liberation Sans', sans-serif" font-size="16.5" font-weight="bold" fill="#000" text-anchor="middle" textLength="149.7" lengthAdjust="spacingAndGlyphs">RP11-742B18.1</text>
<line x1="1218" y1="892" x2="1234" y2="897" stroke="#c8c8c8" stroke-width="1.5"/>
<rect x="1170.9" y="879.4" width="69.59999999999991" height="19.399999999999977" fill="#fff" fill-opacity="0.8" stroke="#808080" stroke-width="1.6"/>
<text x="1205.7" y="894.2" font-family="'DejaVu Sans', 'Liberation Sans', sans-serif" font-size="16.5" font-weight="bold" fill="#000" text-anchor="middle" textLength="64.6" lengthAdjust="spacingAndGlyphs">DUSP4</text>
<rect x="1191.7" y="977.8" width="69.79999999999995" height="19.5" fill="#fff" fill-opacity="0.8" stroke="#808080" stroke-width="1.6"/>
<text x="1226.6" y="992.7" font-family="'DejaVu Sans', 'Liberation Sans', sans-serif" font-size="16.5" font-weight="bold" fill="#000" text-anchor="middle" textLength="64.8" lengthAdjust="spacingAndGlyphs">KCNN4</text>
<line x1="1204.8" y1="1007.9" x2="1196" y2="1005.5" stroke="#c8c8c8" stroke-width="1.5"/>
<rect x="1197.9" y="1009.8" width="93.19999999999982" height="19.299999999999955" fill="#fff" fill-opacity="0.8" stroke="#808080" stroke-width="1.6"/>
<text x="1244.5" y="1024.6" font-family="'DejaVu Sans', 'Liberation Sans', sans-serif" font-size="16.5" font-weight="bold" fill="#000" text-anchor="middle" textLength="88.2" lengthAdjust="spacingAndGlyphs">RPSAP52</text>
<line x1="1161.8" y1="1033.7" x2="1176.8" y2="1028.3" stroke="#c8c8c8" stroke-width="1.5"/>
<rect x="1084.7" y="1035.4" width="77.89999999999986" height="20.0" fill="#fff" fill-opacity="0.8" stroke="#808080" stroke-width="1.6"/>
<text x="1123.7" y="1050.5" font-family="'DejaVu Sans', 'Liberation Sans', sans-serif" font-size="16.5" font-weight="bold" fill="#000" text-anchor="middle" textLength="72.9" lengthAdjust="spacingAndGlyphs">CRTAC1</text>
<line x1="733.4" y1="1054" x2="708.3" y2="1059.6" stroke="#c8c8c8" stroke-width="1.5"/>
<rect x="737.4" y="1034.6" width="78.10000000000002" height="19.700000000000045" fill="#fff" fill-opacity="0.8" stroke="#808080" stroke-width="1.6"/>
<text x="776.5" y="1049.6" font-family="'DejaVu Sans', 'Liberation Sans', sans-serif" font-size="16.5" font-weight="bold" fill="#000" text-anchor="middle" textLength="73.1" lengthAdjust="spacingAndGlyphs">SLC6A8</text>
<rect x="719.6" y="1078.5" width="43.19999999999993" height="19.90000000000009" fill="#fff" fill-opacity="0.8" stroke="#808080" stroke-width="1.6"/>
<text x="741.2" y="1093.6" font-family="'DejaVu Sans', 'Liberation Sans', sans-serif" font-size="16.5" font-weight="bold" fill="#000" text-anchor="middle" textLength="38.2" lengthAdjust="spacingAndGlyphs">CKB</text>
<rect x="673.9" y="793.2" width="625.3000000000001" height="435.20000000000005" fill="none" stroke="#000" stroke-width="1.6"/>
<line x1="798.4" y1="1228.4" x2="798.4" y2="1234.4" stroke="#000" stroke-width="1.6"/>
<text transform="translate(798.4,1256.8) scale(1,1.0)" x="0" y="0" font-family="'DejaVu Sans', 'Liberation Sans', sans-serif" font-size="23" fill="#000" text-anchor="middle">−0.1</text>
<line x1="923.6" y1="1228.4" x2="923.6" y2="1234.4" stroke="#000" stroke-width="1.6"/>
<text transform="translate(923.6,1256.8) scale(1,1.0)" x="0" y="0" font-family="'DejaVu Sans', 'Liberation Sans', sans-serif" font-size="23" fill="#000" text-anchor="middle">0.0</text>
<line x1="1048.8" y1="1228.4" x2="1048.8" y2="1234.4" stroke="#000" stroke-width="1.6"/>
<text transform="translate(1048.8,1256.8) scale(1,1.0)" x="0" y="0" font-family="'DejaVu Sans', 'Liberation Sans', sans-serif" font-size="23" fill="#000" text-anchor="middle">0.1</text>
<line x1="1174.0" y1="1228.4" x2="1174.0" y2="1234.4" stroke="#000" stroke-width="1.6"/>
<text transform="translate(1174.0,1256.8) scale(1,1.0)" x="0" y="0" font-family="'DejaVu Sans', 'Liberation Sans', sans-serif" font-size="23" fill="#000" text-anchor="middle">0.2</text>
<line x1="1299.2" y1="1228.4" x2="1299.2" y2="1234.4" stroke="#000" stroke-width="1.6"/>
<text transform="translate(1299.2,1256.8) scale(1,1.0)" x="0" y="0" font-family="'DejaVu Sans', 'Liberation Sans', sans-serif" font-size="23" fill="#000" text-anchor="middle">0.3</text>
<line x1="667.9" y1="1208.7" x2="673.9" y2="1208.7" stroke="#000" stroke-width="1.6"/>
<text transform="translate(664.5,1217.1) scale(1,1.0)" x="0" y="0" font-family="'DejaVu Sans', 'Liberation Sans', sans-serif" font-size="23" fill="#000" text-anchor="end">0</text>
<line x1="667.9" y1="1109.4" x2="673.9" y2="1109.4" stroke="#000" stroke-width="1.6"/>
<text transform="translate(664.5,1117.7) scale(1,1.0)" x="0" y="0" font-family="'DejaVu Sans', 'Liberation Sans', sans-serif" font-size="23" fill="#000" text-anchor="end">5</text>
<line x1="667.9" y1="1010.0" x2="673.9" y2="1010.0" stroke="#000" stroke-width="1.6"/>
<text transform="translate(664.5,1018.4) scale(1,1.0)" x="0" y="0" font-family="'DejaVu Sans', 'Liberation Sans', sans-serif" font-size="23" fill="#000" text-anchor="end">10</text>
<line x1="667.9" y1="910.7" x2="673.9" y2="910.7" stroke="#000" stroke-width="1.6"/>
<text transform="translate(664.5,919.0) scale(1,1.0)" x="0" y="0" font-family="'DejaVu Sans', 'Liberation Sans', sans-serif" font-size="23" fill="#000" text-anchor="end">15</text>
<line x1="667.9" y1="811.3" x2="673.9" y2="811.3" stroke="#000" stroke-width="1.6"/>
<text transform="translate(664.5,819.7) scale(1,1.0)" x="0" y="0" font-family="'DejaVu Sans', 'Liberation Sans', sans-serif" font-size="23" fill="#000" text-anchor="end">20</text>
</svg>
</body></html>
